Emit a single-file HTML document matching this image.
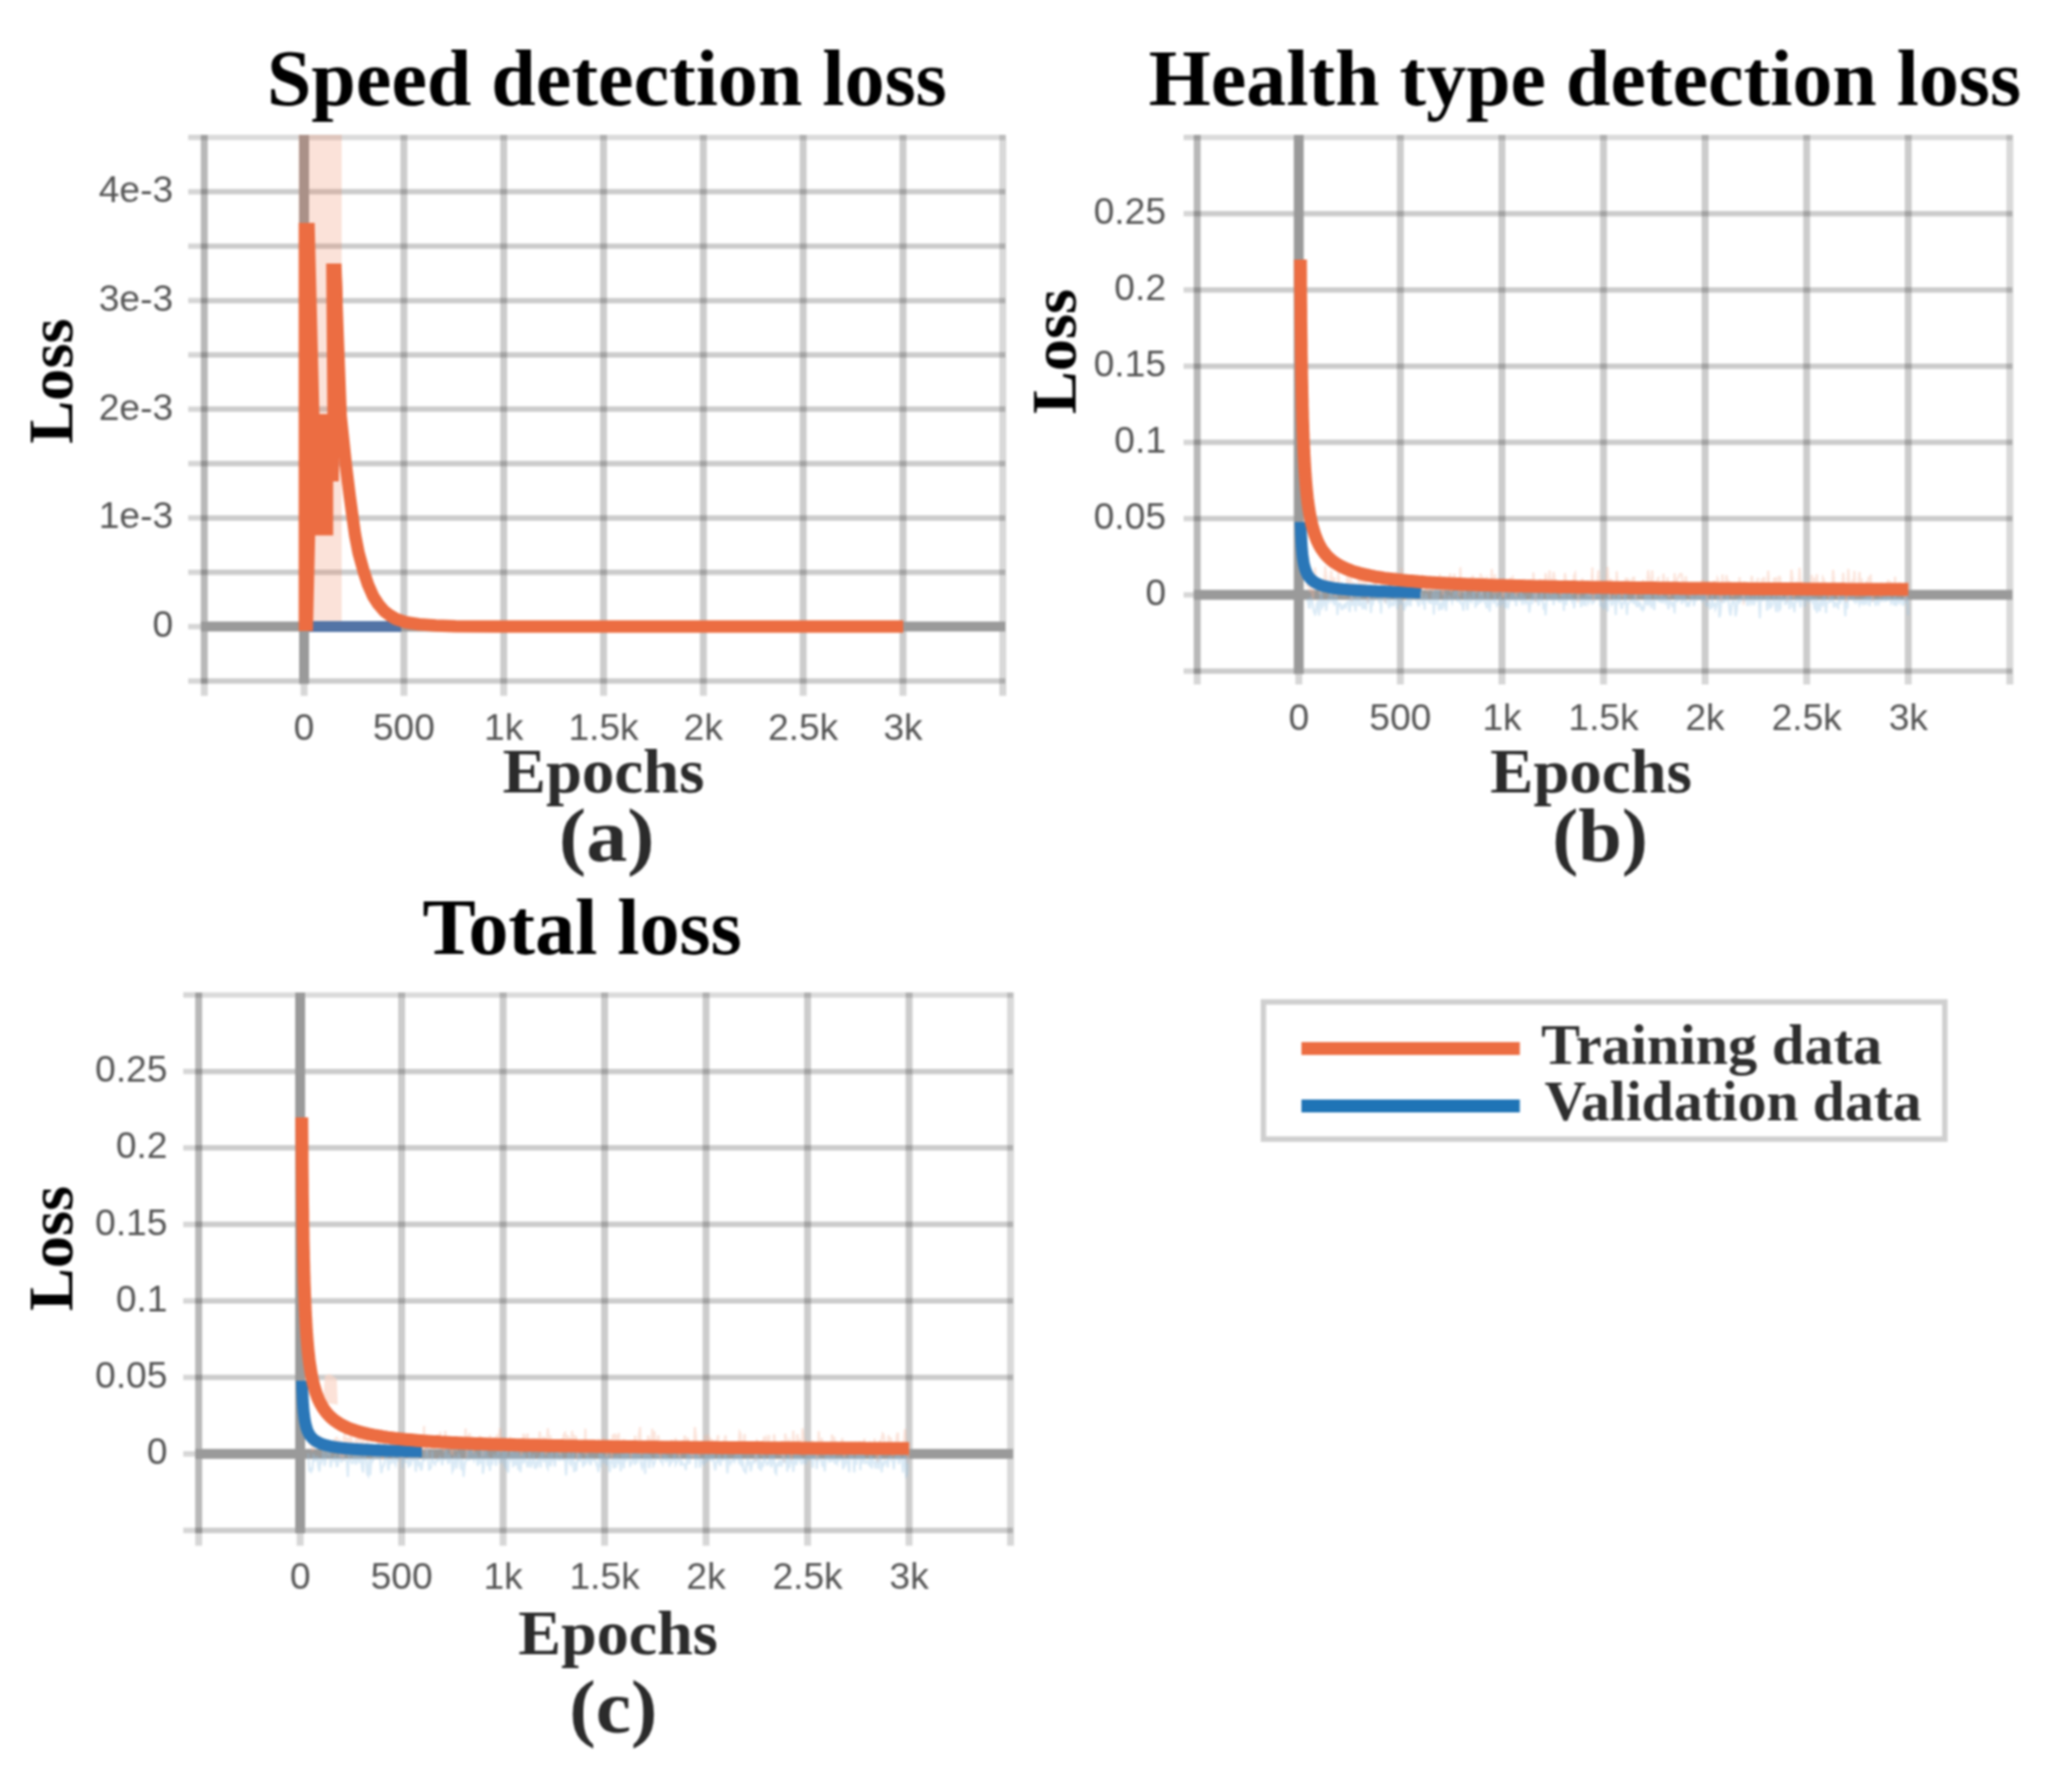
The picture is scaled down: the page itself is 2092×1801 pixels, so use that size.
<!DOCTYPE html>
<html><head><meta charset="utf-8"><title>Loss curves</title>
<style>html,body{margin:0;padding:0;background:#fff}svg{display:block;filter:blur(1px)}</style>
</head><body>
<svg width="2092" height="1801" viewBox="0 0 2092 1801">
<style>.tk{font-family:"Liberation Sans",Arial,sans-serif;font-size:37.5px;fill:#555}.bt{font-family:"Liberation Serif","Times New Roman",serif;font-weight:bold}</style>
<rect width="2092" height="1801" fill="#fff"/>
<line x1="190" y1="138.75" x2="202.75" y2="138.75" stroke="#000" stroke-opacity="0.16" stroke-width="5.5"/>
<line x1="190" y1="193.62" x2="202.75" y2="193.62" stroke="#000" stroke-opacity="0.16" stroke-width="5.5"/>
<line x1="190" y1="248.5" x2="202.75" y2="248.5" stroke="#000" stroke-opacity="0.16" stroke-width="5.5"/>
<line x1="190" y1="303.38" x2="202.75" y2="303.38" stroke="#000" stroke-opacity="0.16" stroke-width="5.5"/>
<line x1="190" y1="358.25" x2="202.75" y2="358.25" stroke="#000" stroke-opacity="0.16" stroke-width="5.5"/>
<line x1="190" y1="413.12" x2="202.75" y2="413.12" stroke="#000" stroke-opacity="0.16" stroke-width="5.5"/>
<line x1="190" y1="468" x2="202.75" y2="468" stroke="#000" stroke-opacity="0.16" stroke-width="5.5"/>
<line x1="190" y1="522.88" x2="202.75" y2="522.88" stroke="#000" stroke-opacity="0.16" stroke-width="5.5"/>
<line x1="190" y1="577.75" x2="202.75" y2="577.75" stroke="#000" stroke-opacity="0.16" stroke-width="5.5"/>
<line x1="190" y1="632.62" x2="202.75" y2="632.62" stroke="#000" stroke-opacity="0.16" stroke-width="5.5"/>
<line x1="190" y1="687.5" x2="202.75" y2="687.5" stroke="#000" stroke-opacity="0.16" stroke-width="5.5"/>
<line x1="206.25" y1="690.5" x2="206.25" y2="702.5" stroke="#000" stroke-opacity="0.16" stroke-width="7"/>
<line x1="307.03" y1="690.5" x2="307.03" y2="702.5" stroke="#000" stroke-opacity="0.16" stroke-width="7"/>
<line x1="407.81" y1="690.5" x2="407.81" y2="702.5" stroke="#000" stroke-opacity="0.16" stroke-width="7"/>
<line x1="508.59" y1="690.5" x2="508.59" y2="702.5" stroke="#000" stroke-opacity="0.16" stroke-width="7"/>
<line x1="609.38" y1="690.5" x2="609.38" y2="702.5" stroke="#000" stroke-opacity="0.16" stroke-width="7"/>
<line x1="710.16" y1="690.5" x2="710.16" y2="702.5" stroke="#000" stroke-opacity="0.16" stroke-width="7"/>
<line x1="810.94" y1="690.5" x2="810.94" y2="702.5" stroke="#000" stroke-opacity="0.16" stroke-width="7"/>
<line x1="911.72" y1="690.5" x2="911.72" y2="702.5" stroke="#000" stroke-opacity="0.16" stroke-width="7"/>
<line x1="1012.5" y1="690.5" x2="1012.5" y2="702.5" stroke="#000" stroke-opacity="0.16" stroke-width="7"/>
<line x1="202.75" y1="138.75" x2="1015" y2="138.75" stroke="#000" stroke-opacity="0.14" stroke-width="5.5"/>
<line x1="202.75" y1="193.62" x2="1015" y2="193.62" stroke="#000" stroke-opacity="0.2" stroke-width="5.5"/>
<line x1="202.75" y1="248.5" x2="1015" y2="248.5" stroke="#000" stroke-opacity="0.2" stroke-width="5.5"/>
<line x1="202.75" y1="303.38" x2="1015" y2="303.38" stroke="#000" stroke-opacity="0.2" stroke-width="5.5"/>
<line x1="202.75" y1="358.25" x2="1015" y2="358.25" stroke="#000" stroke-opacity="0.2" stroke-width="5.5"/>
<line x1="202.75" y1="413.12" x2="1015" y2="413.12" stroke="#000" stroke-opacity="0.2" stroke-width="5.5"/>
<line x1="202.75" y1="468" x2="1015" y2="468" stroke="#000" stroke-opacity="0.2" stroke-width="5.5"/>
<line x1="202.75" y1="522.88" x2="1015" y2="522.88" stroke="#000" stroke-opacity="0.2" stroke-width="5.5"/>
<line x1="202.75" y1="577.75" x2="1015" y2="577.75" stroke="#000" stroke-opacity="0.2" stroke-width="5.5"/>
<line x1="202.75" y1="687.5" x2="1015" y2="687.5" stroke="#000" stroke-opacity="0.2" stroke-width="5.5"/>
<line x1="206.25" y1="136.25" x2="206.25" y2="690.5" stroke="#000" stroke-opacity="0.28" stroke-width="7"/>
<line x1="407.81" y1="136.25" x2="407.81" y2="690.5" stroke="#000" stroke-opacity="0.2" stroke-width="7"/>
<line x1="508.59" y1="136.25" x2="508.59" y2="690.5" stroke="#000" stroke-opacity="0.2" stroke-width="7"/>
<line x1="609.38" y1="136.25" x2="609.38" y2="690.5" stroke="#000" stroke-opacity="0.2" stroke-width="7"/>
<line x1="710.16" y1="136.25" x2="710.16" y2="690.5" stroke="#000" stroke-opacity="0.2" stroke-width="7"/>
<line x1="810.94" y1="136.25" x2="810.94" y2="690.5" stroke="#000" stroke-opacity="0.2" stroke-width="7"/>
<line x1="911.72" y1="136.25" x2="911.72" y2="690.5" stroke="#000" stroke-opacity="0.2" stroke-width="7"/>
<line x1="1012.5" y1="136.25" x2="1012.5" y2="690.5" stroke="#000" stroke-opacity="0.15" stroke-width="7"/>
<line x1="202.75" y1="632.62" x2="1015" y2="632.62" stroke="#9a9a9a" stroke-width="10"/>
<line x1="307.03" y1="136.25" x2="307.03" y2="690.5" stroke="#9a9a9a" stroke-width="10"/>
<text class="tk" x="174.75" y="204.12" text-anchor="end">4e-3</text>
<text class="tk" x="174.75" y="313.88" text-anchor="end">3e-3</text>
<text class="tk" x="174.75" y="423.62" text-anchor="end">2e-3</text>
<text class="tk" x="174.75" y="533.38" text-anchor="end">1e-3</text>
<text class="tk" x="174.75" y="643.12" text-anchor="end">0</text>
<text class="tk" x="307.03" y="746.5" text-anchor="middle">0</text>
<text class="tk" x="407.81" y="746.5" text-anchor="middle">500</text>
<text class="tk" x="508.59" y="746.5" text-anchor="middle">1k</text>
<text class="tk" x="609.38" y="746.5" text-anchor="middle">1.5k</text>
<text class="tk" x="710.16" y="746.5" text-anchor="middle">2k</text>
<text class="tk" x="810.94" y="746.5" text-anchor="middle">2.5k</text>
<text class="tk" x="911.72" y="746.5" text-anchor="middle">3k</text>
<rect x="301.5" y="136" width="43.5" height="496" fill="#ec6d42" fill-opacity="0.2"/>
<line x1="312" y1="632.5" x2="405" y2="632.5" stroke="#5374a6" stroke-width="11"/>
<polygon points="301.6,637 301.6,225 317.7,225 322.5,418 330.5,418 329.3,266 344.8,266 346,300 342,486 336.4,486 336.4,540.4 318.2,540.4 316,637" fill="#ec6d42"/>
<path d="M338.5,272.0 L341.0,340.0 L344.0,420.0 L349.0,467.5 L353.0,500.0 L356.0,522.0 L358.5,540.0 L362.0,558.0 L367.5,577.8 L371.5,590.0 L376.7,601.8 L382.0,610.0 L388.0,617.0 L394.0,621.5 L400.0,625.0 L410.0,628.3 L423.0,630.3 L440.0,631.6 L460.0,632.3 L500.0,632.6 L912.0,632.6" fill="none" stroke="#ec6d42" stroke-width="12.5" stroke-linejoin="round"/>
<line x1="1195" y1="138.75" x2="1205.25" y2="138.75" stroke="#000" stroke-opacity="0.16" stroke-width="5.5"/>
<line x1="1195" y1="215.71" x2="1205.25" y2="215.71" stroke="#000" stroke-opacity="0.16" stroke-width="5.5"/>
<line x1="1195" y1="292.68" x2="1205.25" y2="292.68" stroke="#000" stroke-opacity="0.16" stroke-width="5.5"/>
<line x1="1195" y1="369.64" x2="1205.25" y2="369.64" stroke="#000" stroke-opacity="0.16" stroke-width="5.5"/>
<line x1="1195" y1="446.61" x2="1205.25" y2="446.61" stroke="#000" stroke-opacity="0.16" stroke-width="5.5"/>
<line x1="1195" y1="523.57" x2="1205.25" y2="523.57" stroke="#000" stroke-opacity="0.16" stroke-width="5.5"/>
<line x1="1195" y1="600.54" x2="1205.25" y2="600.54" stroke="#000" stroke-opacity="0.16" stroke-width="5.5"/>
<line x1="1195" y1="677.5" x2="1205.25" y2="677.5" stroke="#000" stroke-opacity="0.16" stroke-width="5.5"/>
<line x1="1208.75" y1="680.5" x2="1208.75" y2="691" stroke="#000" stroke-opacity="0.16" stroke-width="7"/>
<line x1="1311.31" y1="680.5" x2="1311.31" y2="691" stroke="#000" stroke-opacity="0.16" stroke-width="7"/>
<line x1="1413.88" y1="680.5" x2="1413.88" y2="691" stroke="#000" stroke-opacity="0.16" stroke-width="7"/>
<line x1="1516.44" y1="680.5" x2="1516.44" y2="691" stroke="#000" stroke-opacity="0.16" stroke-width="7"/>
<line x1="1619" y1="680.5" x2="1619" y2="691" stroke="#000" stroke-opacity="0.16" stroke-width="7"/>
<line x1="1721.56" y1="680.5" x2="1721.56" y2="691" stroke="#000" stroke-opacity="0.16" stroke-width="7"/>
<line x1="1824.12" y1="680.5" x2="1824.12" y2="691" stroke="#000" stroke-opacity="0.16" stroke-width="7"/>
<line x1="1926.69" y1="680.5" x2="1926.69" y2="691" stroke="#000" stroke-opacity="0.16" stroke-width="7"/>
<line x1="2029.25" y1="680.5" x2="2029.25" y2="691" stroke="#000" stroke-opacity="0.16" stroke-width="7"/>
<line x1="1205.25" y1="138.75" x2="2031.75" y2="138.75" stroke="#000" stroke-opacity="0.14" stroke-width="5.5"/>
<line x1="1205.25" y1="215.71" x2="2031.75" y2="215.71" stroke="#000" stroke-opacity="0.2" stroke-width="5.5"/>
<line x1="1205.25" y1="292.68" x2="2031.75" y2="292.68" stroke="#000" stroke-opacity="0.2" stroke-width="5.5"/>
<line x1="1205.25" y1="369.64" x2="2031.75" y2="369.64" stroke="#000" stroke-opacity="0.2" stroke-width="5.5"/>
<line x1="1205.25" y1="446.61" x2="2031.75" y2="446.61" stroke="#000" stroke-opacity="0.2" stroke-width="5.5"/>
<line x1="1205.25" y1="523.57" x2="2031.75" y2="523.57" stroke="#000" stroke-opacity="0.2" stroke-width="5.5"/>
<line x1="1205.25" y1="677.5" x2="2031.75" y2="677.5" stroke="#000" stroke-opacity="0.2" stroke-width="5.5"/>
<line x1="1208.75" y1="136.25" x2="1208.75" y2="680.5" stroke="#000" stroke-opacity="0.28" stroke-width="7"/>
<line x1="1413.88" y1="136.25" x2="1413.88" y2="680.5" stroke="#000" stroke-opacity="0.2" stroke-width="7"/>
<line x1="1516.44" y1="136.25" x2="1516.44" y2="680.5" stroke="#000" stroke-opacity="0.2" stroke-width="7"/>
<line x1="1619" y1="136.25" x2="1619" y2="680.5" stroke="#000" stroke-opacity="0.2" stroke-width="7"/>
<line x1="1721.56" y1="136.25" x2="1721.56" y2="680.5" stroke="#000" stroke-opacity="0.2" stroke-width="7"/>
<line x1="1824.12" y1="136.25" x2="1824.12" y2="680.5" stroke="#000" stroke-opacity="0.2" stroke-width="7"/>
<line x1="1926.69" y1="136.25" x2="1926.69" y2="680.5" stroke="#000" stroke-opacity="0.2" stroke-width="7"/>
<line x1="2029.25" y1="136.25" x2="2029.25" y2="680.5" stroke="#000" stroke-opacity="0.15" stroke-width="7"/>
<line x1="1205.25" y1="600.54" x2="2031.75" y2="600.54" stroke="#9a9a9a" stroke-width="10"/>
<line x1="1311.31" y1="136.25" x2="1311.31" y2="680.5" stroke="#9a9a9a" stroke-width="10"/>
<text class="tk" x="1177.25" y="226.21" text-anchor="end">0.25</text>
<text class="tk" x="1177.25" y="303.18" text-anchor="end">0.2</text>
<text class="tk" x="1177.25" y="380.14" text-anchor="end">0.15</text>
<text class="tk" x="1177.25" y="457.11" text-anchor="end">0.1</text>
<text class="tk" x="1177.25" y="534.07" text-anchor="end">0.05</text>
<text class="tk" x="1177.25" y="611.04" text-anchor="end">0</text>
<text class="tk" x="1311.31" y="736.5" text-anchor="middle">0</text>
<text class="tk" x="1413.88" y="736.5" text-anchor="middle">500</text>
<text class="tk" x="1516.44" y="736.5" text-anchor="middle">1k</text>
<text class="tk" x="1619" y="736.5" text-anchor="middle">1.5k</text>
<text class="tk" x="1721.56" y="736.5" text-anchor="middle">2k</text>
<text class="tk" x="1824.12" y="736.5" text-anchor="middle">2.5k</text>
<text class="tk" x="1926.69" y="736.5" text-anchor="middle">3k</text>
<path d="M1319.5,592.4 L1320.5,583.4 L1321.6,591.1 L1322.6,597.8 L1323.6,587.2 L1324.6,596.2 L1325.7,604.6 L1326.7,591.0 L1327.7,572.7 L1328.7,587.5 L1329.8,591.5 L1330.8,591.2 L1331.8,594.3 L1332.9,600.0 L1333.9,593.3 L1334.9,590.8 L1335.9,591.3 L1337.0,591.8 L1338.0,571.5 L1339.0,581.7 L1340.0,593.0 L1341.1,591.9 L1342.1,587.0 L1343.1,585.9 L1344.1,575.8 L1345.2,595.5 L1346.2,583.6 L1347.2,583.7 L1348.2,602.1 L1349.3,588.3 L1350.3,596.8 L1351.3,577.2 L1352.3,595.1 L1353.4,592.3 L1354.4,589.2 L1355.4,590.2 L1356.4,600.4 L1357.5,600.8 L1358.5,597.8 L1359.5,594.4 L1360.5,576.2 L1361.6,598.2 L1362.6,595.9 L1363.6,582.2 L1364.6,607.1 L1365.7,594.3 L1366.7,587.7 L1367.7,591.9 L1368.7,600.9 L1369.8,597.5 L1370.8,593.6 L1371.8,582.4 L1372.8,588.7 L1373.9,593.3 L1374.9,577.9 L1375.9,593.2 L1377.0,582.3 L1378.0,602.8 L1379.0,582.1 L1380.0,591.6 L1381.1,609.1 L1382.1,598.7 L1383.1,599.3 L1384.1,590.2 L1385.2,600.7 L1386.2,595.2 L1387.2,589.3 L1388.2,590.0 L1389.3,587.9 L1390.3,596.5 L1391.3,591.4 L1392.3,596.1 L1393.4,590.9 L1394.4,596.2 L1395.4,578.7 L1396.4,586.8 L1397.5,591.8 L1398.5,608.9 L1399.5,583.6 L1400.5,603.5 L1401.6,591.8 L1402.6,598.5 L1403.6,600.6 L1404.6,582.8 L1405.7,584.6 L1406.7,580.6 L1407.7,595.4 L1408.7,577.3 L1409.8,593.9 L1410.8,583.0 L1411.8,589.4 L1412.8,589.3 L1413.9,602.0 L1414.9,573.9 L1415.9,587.8 L1417.0,585.8 L1418.0,593.3 L1419.0,603.8 L1420.0,602.6 L1421.1,591.5 L1422.1,587.4 L1423.1,587.1 L1424.1,591.4 L1425.2,596.7 L1426.2,593.3 L1427.2,580.6 L1428.2,593.4 L1429.3,595.9 L1430.3,596.5 L1431.3,580.1 L1432.3,585.4 L1433.4,590.2 L1434.4,598.5 L1435.4,579.8 L1436.4,583.3 L1437.5,592.8 L1438.5,591.8 L1439.5,596.0 L1440.5,588.8 L1441.6,597.5 L1442.6,582.6 L1443.6,591.8 L1444.6,590.7 L1445.7,586.5 L1446.7,597.3 L1447.7,593.9 L1448.7,591.3 L1449.8,588.2 L1450.8,592.0 L1451.8,589.0 L1452.8,587.9 L1453.9,579.5 L1454.9,589.8 L1455.9,591.5 L1457.0,600.5 L1458.0,589.8 L1459.0,594.4 L1460.0,587.2 L1461.1,587.8 L1462.1,594.7 L1463.1,589.9 L1464.1,578.8 L1465.2,598.0 L1466.2,586.7 L1467.2,594.1 L1468.2,579.2 L1469.3,583.1 L1470.3,590.1 L1471.3,584.0 L1472.3,587.2 L1473.4,601.6 L1474.4,572.5 L1475.4,590.1 L1476.4,597.8 L1477.5,586.3 L1478.5,598.7 L1479.5,589.8 L1480.5,591.3 L1481.6,590.5 L1482.6,589.2 L1483.6,596.5 L1484.6,593.4 L1485.7,590.8 L1486.7,581.9 L1487.7,582.5 L1488.7,589.8 L1489.8,597.2 L1490.8,597.4 L1491.8,588.4 L1492.8,583.6 L1493.9,594.2 L1494.9,578.9 L1495.9,601.2 L1497.0,581.5 L1498.0,590.7 L1499.0,590.6 L1500.0,591.2 L1501.1,581.6 L1502.1,594.5 L1503.1,590.1 L1504.1,590.8 L1505.2,590.7 L1506.2,574.4 L1507.2,595.7 L1508.2,597.8 L1509.3,579.9 L1510.3,591.6 L1511.3,598.9 L1512.3,589.1 L1513.4,591.0 L1514.4,594.1 L1515.4,588.9 L1516.4,594.9 L1517.5,602.9 L1518.5,599.0 L1519.5,593.3 L1520.5,590.8 L1521.6,593.4 L1522.6,591.1 L1523.6,598.8 L1524.6,588.4 L1525.7,582.7 L1526.7,588.0 L1527.7,583.5 L1528.7,586.2 L1529.8,598.1 L1530.8,602.6 L1531.8,589.2 L1532.8,598.9 L1533.9,592.2 L1534.9,585.7 L1535.9,589.8 L1537.0,594.0 L1538.0,595.2 L1539.0,584.6 L1540.0,589.1 L1541.1,591.1 L1542.1,591.2 L1543.1,592.2 L1544.1,591.9 L1545.2,590.2 L1546.2,590.9 L1547.2,593.9 L1548.2,577.8 L1549.3,589.7 L1550.3,608.0 L1551.3,592.5 L1552.3,594.5 L1553.4,591.0 L1554.4,591.2 L1555.4,584.5 L1556.4,597.1 L1557.5,587.4 L1558.5,593.3 L1559.5,591.3 L1560.5,578.7 L1561.6,584.2 L1562.6,589.2 L1563.6,589.3 L1564.6,575.8 L1565.7,600.1 L1566.7,583.7 L1567.7,586.2 L1568.7,577.3 L1569.8,585.3 L1570.8,587.0 L1571.8,590.7 L1572.8,594.3 L1573.9,598.3 L1574.9,587.8 L1575.9,601.4 L1576.9,589.1 L1578.0,587.7 L1579.0,590.8 L1580.0,578.5 L1581.1,585.2 L1582.1,590.9 L1583.1,587.9 L1584.1,595.2 L1585.2,594.8 L1586.2,591.8 L1587.2,600.3 L1588.2,590.3 L1589.3,580.7 L1590.3,578.7 L1591.3,590.4 L1592.3,588.3 L1593.4,608.2 L1594.4,597.7 L1595.4,597.9 L1596.4,591.0 L1597.5,583.8 L1598.5,590.7 L1599.5,592.8 L1600.5,587.8 L1601.6,597.5 L1602.6,591.4 L1603.6,591.7 L1604.6,601.7 L1605.7,595.3 L1606.7,590.8 L1607.7,572.8 L1608.7,606.8 L1609.8,592.6 L1610.8,586.7 L1611.8,590.4 L1612.8,587.1 L1613.9,575.6 L1614.9,590.8 L1615.9,589.0 L1616.9,591.9 L1618.0,591.2 L1619.0,592.8 L1620.0,591.8 L1621.1,589.9 L1622.1,585.4 L1623.1,572.3 L1624.1,589.1 L1625.2,605.1 L1626.2,584.2 L1627.2,592.8 L1628.2,587.1 L1629.3,589.0 L1630.3,589.4 L1631.3,601.1 L1632.3,576.7 L1633.4,592.4 L1634.4,595.2 L1635.4,590.8 L1636.4,591.2 L1637.5,602.5 L1638.5,590.0 L1639.5,593.7 L1640.5,595.3 L1641.6,583.1 L1642.6,593.3 L1643.6,583.6 L1644.6,589.0 L1645.7,592.1 L1646.7,586.7 L1647.7,585.2 L1648.7,595.1 L1649.8,582.2 L1650.8,592.4 L1651.8,605.4 L1652.8,592.7 L1653.9,590.1 L1654.9,589.1 L1655.9,590.5 L1656.9,598.9 L1658.0,596.4 L1659.0,585.1 L1660.0,592.5 L1661.1,595.4 L1662.1,591.9 L1663.1,586.5 L1664.1,575.6 L1665.2,584.1 L1666.2,587.6 L1667.2,594.2 L1668.2,575.7 L1669.3,594.9 L1670.3,593.3 L1671.3,592.9 L1672.3,598.2 L1673.4,584.9 L1674.4,583.7 L1675.4,601.1 L1676.4,587.0 L1677.5,601.2 L1678.5,590.3 L1679.5,579.1 L1680.5,590.5 L1681.6,589.8 L1682.6,592.7 L1683.6,582.8 L1684.6,601.8 L1685.7,601.9 L1686.7,589.8 L1687.7,599.9 L1688.7,590.6 L1689.8,592.7 L1690.8,578.7 L1691.8,591.4 L1692.8,585.0 L1693.9,584.5 L1694.9,582.6 L1695.9,579.9 L1696.9,579.4 L1698.0,579.6 L1699.0,590.6 L1700.0,586.2 L1701.0,591.8 L1702.1,581.7 L1703.1,592.1 L1704.1,596.3 L1705.2,599.4 L1706.2,596.7 L1707.2,601.3 L1708.2,589.3 L1709.3,599.3 L1710.3,588.2 L1711.3,593.3 L1712.3,594.0 L1713.4,598.9 L1714.4,590.5 L1715.4,594.8 L1716.4,601.2 L1717.5,595.4 L1718.5,585.2 L1719.5,599.8 L1720.5,585.6 L1721.6,589.5 L1722.6,591.5 L1723.6,608.4 L1724.6,586.7 L1725.7,590.7 L1726.7,600.2 L1727.7,589.8 L1728.7,600.6 L1729.8,595.4 L1730.8,586.1 L1731.8,593.5 L1732.8,593.2 L1733.9,583.7 L1734.9,585.9 L1735.9,596.3 L1736.9,602.1 L1738.0,607.7 L1739.0,579.9 L1740.0,595.8 L1741.0,590.5 L1742.1,591.7 L1743.1,580.6 L1744.1,587.0 L1745.2,586.5 L1746.2,589.8 L1747.2,588.6 L1748.2,590.4 L1749.3,602.7 L1750.3,593.6 L1751.3,596.5 L1752.3,592.2 L1753.4,595.2 L1754.4,597.5 L1755.4,592.8 L1756.4,582.7 L1757.5,598.7 L1758.5,589.3 L1759.5,590.1 L1760.5,610.7 L1761.6,588.8 L1762.6,590.0 L1763.6,594.0 L1764.6,594.0 L1765.7,594.2 L1766.7,593.2 L1767.7,588.2 L1768.7,581.3 L1769.8,588.3 L1770.8,590.1 L1771.8,592.7 L1772.8,586.3 L1773.9,596.5 L1774.9,583.3 L1775.9,595.0 L1776.9,593.0 L1778.0,591.6 L1779.0,584.1 L1780.0,591.0 L1781.0,582.5 L1782.1,592.8 L1783.1,591.4 L1784.1,594.1 L1785.2,576.1 L1786.2,587.4 L1787.2,597.7 L1788.2,595.4 L1789.3,597.3 L1790.3,591.0 L1791.3,583.3 L1792.3,601.8 L1793.4,582.5 L1794.4,594.3 L1795.4,601.5 L1796.4,581.2 L1797.5,584.1 L1798.5,602.8 L1799.5,590.3 L1800.5,595.4 L1801.6,589.2 L1802.6,597.7 L1803.6,593.9 L1804.6,605.9 L1805.7,604.5 L1806.7,590.3 L1807.7,590.7 L1808.7,575.0 L1809.8,583.7 L1810.8,603.8 L1811.8,598.9 L1812.8,597.2 L1813.9,588.8 L1814.9,591.2 L1815.9,594.7 L1816.9,573.0 L1818.0,589.4 L1819.0,586.2 L1820.0,594.1 L1821.0,591.1 L1822.1,596.9 L1823.1,596.8 L1824.1,590.8 L1825.2,591.1 L1826.2,590.4 L1827.2,591.1 L1828.2,590.3 L1829.3,580.3 L1830.3,591.8 L1831.3,587.9 L1832.3,583.5 L1833.4,591.9 L1834.4,579.7 L1835.4,592.9 L1836.4,588.9 L1837.5,590.8 L1838.5,593.8 L1839.5,591.7 L1840.5,583.2 L1841.6,585.8 L1842.6,588.2 L1843.6,591.0 L1844.6,598.0 L1845.7,591.3 L1846.7,603.8 L1847.7,591.0 L1848.7,594.4 L1849.8,592.0 L1850.8,575.4 L1851.8,585.6 L1852.8,593.8 L1853.9,599.6 L1854.9,588.9 L1855.9,604.0 L1856.9,599.4 L1858.0,591.3 L1859.0,594.4 L1860.0,591.7 L1861.0,578.4 L1862.1,592.8 L1863.1,591.1 L1864.1,608.2 L1865.2,595.1 L1866.2,574.3 L1867.2,591.5 L1868.2,598.9 L1869.3,588.2 L1870.3,586.5 L1871.3,591.5 L1872.3,576.2 L1873.4,598.8 L1874.4,602.2 L1875.4,593.2 L1876.4,588.5 L1877.5,577.4 L1878.5,590.1 L1879.5,583.9 L1880.5,591.5 L1881.6,594.7 L1882.6,589.6 L1883.6,594.3 L1884.6,586.1 L1885.7,594.7 L1886.7,582.2 L1887.7,594.6 L1888.7,579.9 L1889.8,597.0 L1890.8,607.4 L1891.8,592.6 L1892.8,591.2 L1893.9,590.2 L1894.9,599.3 L1895.9,596.0 L1896.9,588.8 L1898.0,596.1 L1899.0,602.6 L1900.0,590.6 L1901.0,592.5 L1902.1,595.6 L1903.1,591.3 L1904.1,589.9 L1905.1,595.0 L1906.2,585.4 L1907.2,591.1 L1908.2,587.5 L1909.3,588.2 L1910.3,589.5 L1911.3,590.3 L1912.3,593.1 L1913.4,582.2 L1914.4,596.5 L1915.4,597.8 L1916.4,591.3 L1917.5,588.5 L1918.5,588.8 L1919.5,593.2 L1920.5,600.9 L1921.6,592.5 L1922.6,598.9 L1923.6,606.8 L1924.6,589.8 L1925.7,588.5 L1926.7,595.7" fill="none" stroke="#f5b49c" stroke-opacity="0.35" stroke-width="2.2"/>
<path d="M1319.5,607.3 L1320.5,605.8 L1321.6,613.5 L1322.6,613.5 L1323.6,602.5 L1324.6,605.3 L1325.7,612.5 L1326.7,618.0 L1327.7,620.0 L1328.7,617.5 L1329.8,609.1 L1330.8,606.5 L1331.8,621.5 L1332.9,606.7 L1333.9,589.7 L1334.9,612.8 L1335.9,610.9 L1337.0,606.0 L1338.0,606.3 L1339.0,616.6 L1340.0,608.2 L1341.1,605.0 L1342.1,606.8 L1343.1,598.6 L1344.1,595.0 L1345.2,608.6 L1346.2,602.0 L1347.2,610.0 L1348.2,609.3 L1349.3,601.0 L1350.3,621.0 L1351.3,608.0 L1352.3,611.1 L1353.4,609.9 L1354.4,614.8 L1355.4,615.0 L1356.4,611.4 L1357.5,610.4 L1358.5,614.3 L1359.5,609.7 L1360.5,607.5 L1361.6,607.4 L1362.6,618.0 L1363.6,607.6 L1364.6,598.3 L1365.7,611.6 L1366.7,603.3 L1367.7,606.8 L1368.7,617.2 L1369.8,588.8 L1370.8,606.7 L1371.8,611.9 L1372.8,598.9 L1373.9,612.0 L1374.9,607.2 L1375.9,615.0 L1377.0,604.3 L1378.0,613.4 L1379.0,614.4 L1380.0,606.3 L1381.1,605.1 L1382.1,608.7 L1383.1,602.0 L1384.1,618.8 L1385.2,607.4 L1386.2,609.0 L1387.2,605.3 L1388.2,591.8 L1389.3,602.7 L1390.3,603.7 L1391.3,600.5 L1392.3,608.8 L1393.4,601.8 L1394.4,619.4 L1395.4,594.8 L1396.4,593.3 L1397.5,605.7 L1398.5,607.1 L1399.5,608.4 L1400.5,595.6 L1401.6,605.7 L1402.6,614.1 L1403.6,603.8 L1404.6,610.5 L1405.7,611.2 L1406.7,607.9 L1407.7,611.5 L1408.7,600.4 L1409.8,600.8 L1410.8,615.2 L1411.8,607.1 L1412.8,604.6 L1413.9,609.9 L1414.9,606.6 L1415.9,608.1 L1417.0,611.5 L1418.0,616.2 L1419.0,606.7 L1420.0,612.5 L1421.1,603.4 L1422.1,610.9 L1423.1,595.8 L1424.1,612.1 L1425.2,602.9 L1426.2,602.4 L1427.2,597.0 L1428.2,604.4 L1429.3,603.9 L1430.3,606.7 L1431.3,607.7 L1432.3,612.2 L1433.4,607.1 L1434.4,603.5 L1435.4,597.0 L1436.4,610.3 L1437.5,602.0 L1438.5,615.6 L1439.5,599.0 L1440.5,602.4 L1441.6,605.5 L1442.6,608.0 L1443.6,608.4 L1444.6,604.8 L1445.7,609.5 L1446.7,597.6 L1447.7,620.5 L1448.7,595.4 L1449.8,610.5 L1450.8,607.7 L1451.8,595.5 L1452.8,616.1 L1453.9,612.1 L1454.9,609.8 L1455.9,615.6 L1457.0,608.1 L1458.0,610.3 L1459.0,598.6 L1460.0,616.8 L1461.1,606.1 L1462.1,606.0 L1463.1,601.1 L1464.1,604.4 L1465.2,604.8 L1466.2,608.3 L1467.2,604.5 L1468.2,599.0 L1469.3,597.6 L1470.3,595.2 L1471.3,607.8 L1472.3,603.7 L1473.4,605.1 L1474.4,608.4 L1475.4,607.6 L1476.4,611.2 L1477.5,616.5 L1478.5,602.6 L1479.5,594.0 L1480.5,606.2 L1481.6,616.0 L1482.6,606.9 L1483.6,602.7 L1484.6,606.2 L1485.7,607.5 L1486.7,602.9 L1487.7,592.9 L1488.7,600.9 L1489.8,613.6 L1490.8,604.2 L1491.8,610.8 L1492.8,607.2 L1493.9,597.6 L1494.9,609.0 L1495.9,593.4 L1497.0,606.8 L1498.0,604.2 L1499.0,607.9 L1500.0,609.3 L1501.1,614.1 L1502.1,594.2 L1503.1,610.5 L1504.1,617.5 L1505.2,605.9 L1506.2,605.6 L1507.2,605.6 L1508.2,609.2 L1509.3,600.6 L1510.3,606.7 L1511.3,611.5 L1512.3,610.2 L1513.4,608.4 L1514.4,601.9 L1515.4,610.8 L1516.4,608.7 L1517.5,606.3 L1518.5,606.1 L1519.5,614.2 L1520.5,594.5 L1521.6,612.0 L1522.6,613.4 L1523.6,608.6 L1524.6,603.4 L1525.7,605.1 L1526.7,598.9 L1527.7,600.4 L1528.7,607.2 L1529.8,600.7 L1530.8,611.8 L1531.8,602.5 L1532.8,603.0 L1533.9,603.9 L1534.9,606.9 L1535.9,595.3 L1537.0,610.6 L1538.0,604.4 L1539.0,601.5 L1540.0,608.5 L1541.1,606.9 L1542.1,608.6 L1543.1,607.8 L1544.1,618.3 L1545.2,608.9 L1546.2,603.2 L1547.2,609.7 L1548.2,594.6 L1549.3,598.3 L1550.3,607.6 L1551.3,595.1 L1552.3,605.2 L1553.4,611.4 L1554.4,605.1 L1555.4,605.9 L1556.4,596.2 L1557.5,604.4 L1558.5,615.4 L1559.5,608.8 L1560.5,621.1 L1561.6,606.2 L1562.6,595.4 L1563.6,605.7 L1564.6,601.9 L1565.7,606.3 L1566.7,600.9 L1567.7,602.2 L1568.7,610.9 L1569.8,598.4 L1570.8,606.0 L1571.8,601.0 L1572.8,604.7 L1573.9,607.3 L1574.9,607.3 L1575.9,604.2 L1576.9,606.2 L1578.0,597.5 L1579.0,616.6 L1580.0,593.7 L1581.1,610.8 L1582.1,605.0 L1583.1,604.9 L1584.1,599.0 L1585.2,604.0 L1586.2,602.6 L1587.2,606.9 L1588.2,605.1 L1589.3,614.0 L1590.3,607.7 L1591.3,605.4 L1592.3,605.6 L1593.4,602.2 L1594.4,602.4 L1595.4,605.8 L1596.4,613.0 L1597.5,602.5 L1598.5,608.0 L1599.5,605.6 L1600.5,611.9 L1601.6,598.7 L1602.6,592.3 L1603.6,608.8 L1604.6,607.0 L1605.7,591.7 L1606.7,603.9 L1607.7,609.1 L1608.7,608.2 L1609.8,607.4 L1610.8,598.5 L1611.8,603.7 L1612.8,599.5 L1613.9,591.5 L1614.9,602.8 L1615.9,612.5 L1616.9,607.0 L1618.0,611.2 L1619.0,614.2 L1620.0,613.0 L1621.1,603.2 L1622.1,607.6 L1623.1,617.4 L1624.1,596.8 L1625.2,605.9 L1626.2,606.4 L1627.2,610.5 L1628.2,609.5 L1629.3,602.6 L1630.3,604.4 L1631.3,621.0 L1632.3,603.9 L1633.4,606.4 L1634.4,597.9 L1635.4,604.5 L1636.4,611.3 L1637.5,614.7 L1638.5,607.4 L1639.5,610.1 L1640.5,592.2 L1641.6,604.0 L1642.6,620.8 L1643.6,609.5 L1644.6,608.8 L1645.7,607.4 L1646.7,606.6 L1647.7,605.5 L1648.7,608.2 L1649.8,608.8 L1650.8,600.0 L1651.8,609.4 L1652.8,612.7 L1653.9,606.3 L1654.9,612.6 L1655.9,607.7 L1656.9,614.4 L1658.0,613.0 L1659.0,616.0 L1660.0,614.0 L1661.1,598.8 L1662.1,609.0 L1663.1,610.0 L1664.1,591.4 L1665.2,610.7 L1666.2,600.3 L1667.2,613.6 L1668.2,606.7 L1669.3,606.8 L1670.3,616.0 L1671.3,601.0 L1672.3,600.7 L1673.4,601.9 L1674.4,606.0 L1675.4,604.4 L1676.4,608.1 L1677.5,599.2 L1678.5,608.8 L1679.5,606.3 L1680.5,602.3 L1681.6,607.9 L1682.6,605.3 L1683.6,607.6 L1684.6,615.2 L1685.7,606.6 L1686.7,607.2 L1687.7,609.1 L1688.7,612.8 L1689.8,607.2 L1690.8,619.2 L1691.8,598.8 L1692.8,598.1 L1693.9,607.8 L1694.9,594.4 L1695.9,605.5 L1696.9,600.9 L1698.0,609.9 L1699.0,595.9 L1700.0,607.9 L1701.0,603.4 L1702.1,606.8 L1703.1,612.6 L1704.1,607.2 L1705.2,612.4 L1706.2,607.6 L1707.2,606.7 L1708.2,600.0 L1709.3,599.5 L1710.3,611.9 L1711.3,606.9 L1712.3,606.2 L1713.4,594.6 L1714.4,605.6 L1715.4,592.7 L1716.4,600.7 L1717.5,604.1 L1718.5,599.1 L1719.5,606.0 L1720.5,603.9 L1721.6,594.1 L1722.6,611.2 L1723.6,611.4 L1724.6,606.0 L1725.7,609.0 L1726.7,614.0 L1727.7,613.5 L1728.7,600.7 L1729.8,612.8 L1730.8,608.1 L1731.8,614.8 L1732.8,612.3 L1733.9,606.8 L1734.9,591.3 L1735.9,623.1 L1736.9,620.6 L1738.0,604.0 L1739.0,602.2 L1740.0,607.8 L1741.0,607.7 L1742.1,606.7 L1743.1,603.1 L1744.1,599.4 L1745.2,606.5 L1746.2,616.8 L1747.2,621.3 L1748.2,612.0 L1749.3,606.6 L1750.3,608.3 L1751.3,607.4 L1752.3,622.1 L1753.4,616.5 L1754.4,605.3 L1755.4,605.2 L1756.4,609.3 L1757.5,603.4 L1758.5,606.9 L1759.5,597.9 L1760.5,600.6 L1761.6,606.6 L1762.6,605.5 L1763.6,603.1 L1764.6,612.0 L1765.7,600.6 L1766.7,606.3 L1767.7,609.4 L1768.7,606.8 L1769.8,601.2 L1770.8,611.1 L1771.8,606.7 L1772.8,605.7 L1773.9,591.8 L1774.9,606.3 L1775.9,607.8 L1776.9,624.1 L1778.0,600.3 L1779.0,604.9 L1780.0,606.0 L1781.0,605.0 L1782.1,604.6 L1783.1,598.8 L1784.1,616.4 L1785.2,609.3 L1786.2,595.8 L1787.2,613.3 L1788.2,612.5 L1789.3,610.1 L1790.3,602.1 L1791.3,600.1 L1792.3,610.9 L1793.4,617.9 L1794.4,607.9 L1795.4,598.8 L1796.4,615.9 L1797.5,614.6 L1798.5,599.7 L1799.5,606.3 L1800.5,605.3 L1801.6,603.9 L1802.6,610.8 L1803.6,602.5 L1804.6,609.4 L1805.7,596.2 L1806.7,614.9 L1807.7,598.9 L1808.7,602.8 L1809.8,613.4 L1810.8,607.8 L1811.8,618.2 L1812.8,604.3 L1813.9,604.9 L1814.9,606.6 L1815.9,604.6 L1816.9,606.6 L1818.0,613.2 L1819.0,602.8 L1820.0,601.3 L1821.0,598.3 L1822.1,612.6 L1823.1,601.7 L1824.1,603.3 L1825.2,605.8 L1826.2,607.1 L1827.2,597.8 L1828.2,604.5 L1829.3,606.9 L1830.3,604.3 L1831.3,609.6 L1832.3,615.5 L1833.4,602.9 L1834.4,618.8 L1835.4,605.3 L1836.4,615.4 L1837.5,616.0 L1838.5,604.5 L1839.5,607.0 L1840.5,612.4 L1841.6,600.7 L1842.6,602.3 L1843.6,619.0 L1844.6,608.0 L1845.7,608.0 L1846.7,607.8 L1847.7,604.3 L1848.7,606.3 L1849.8,601.0 L1850.8,605.3 L1851.8,613.4 L1852.8,608.5 L1853.9,609.1 L1854.9,612.3 L1855.9,613.5 L1856.9,596.7 L1858.0,609.5 L1859.0,604.6 L1860.0,604.7 L1861.0,598.0 L1862.1,607.9 L1863.1,622.2 L1864.1,606.8 L1865.2,614.5 L1866.2,600.6 L1867.2,606.1 L1868.2,592.8 L1869.3,596.5 L1870.3,598.2 L1871.3,606.5 L1872.3,606.6 L1873.4,608.3 L1874.4,606.6 L1875.4,606.6 L1876.4,606.5 L1877.5,610.4 L1878.5,606.7 L1879.5,608.1 L1880.5,606.1 L1881.6,610.9 L1882.6,605.9 L1883.6,602.9 L1884.6,610.4 L1885.7,590.5 L1886.7,601.2 L1887.7,612.0 L1888.7,599.6 L1889.8,606.7 L1890.8,606.6 L1891.8,606.5 L1892.8,606.1 L1893.9,611.6 L1894.9,606.3 L1895.9,606.3 L1896.9,609.0 L1898.0,604.7 L1899.0,605.3 L1900.0,606.6 L1901.0,605.0 L1902.1,602.9 L1903.1,606.7 L1904.1,606.3 L1905.1,600.7 L1906.2,606.7 L1907.2,594.4 L1908.2,602.6 L1909.3,608.7 L1910.3,606.6 L1911.3,605.1 L1912.3,611.0 L1913.4,598.8 L1914.4,611.8 L1915.4,605.9 L1916.4,607.4 L1917.5,603.3 L1918.5,608.1 L1919.5,605.7 L1920.5,605.6 L1921.6,611.5 L1922.6,606.0 L1923.6,608.7 L1924.6,601.1 L1925.7,603.7 L1926.7,621.1" fill="none" stroke="#94c2e6" stroke-opacity="0.35" stroke-width="2.2"/>
<path d="M1313.2,527.0 L1313.2,527.1 L1313.2,529.7 L1313.3,532.0 L1313.4,534.2 L1313.5,536.2 L1313.5,538.1 L1313.6,539.9 L1313.7,541.5 L1313.8,543.1 L1313.9,544.5 L1313.9,545.9 L1314.0,547.2 L1314.1,548.5 L1314.2,549.6 L1314.2,550.8 L1314.3,551.8 L1314.4,552.8 L1314.5,553.8 L1314.6,554.7 L1314.6,555.6 L1314.7,556.4 L1314.8,557.2 L1314.9,558.0 L1314.9,558.8 L1315.0,559.5 L1315.1,560.2 L1315.2,560.8 L1315.3,561.5 L1315.3,562.1 L1315.4,562.7 L1315.5,563.2 L1315.6,563.8 L1315.6,564.3 L1315.7,564.8 L1315.8,565.3 L1315.9,565.8 L1315.9,566.3 L1316.0,566.7 L1316.1,567.2 L1316.2,567.6 L1316.3,568.0 L1316.3,568.4 L1316.4,568.8 L1316.5,569.2 L1316.6,569.6 L1316.6,569.9 L1316.7,570.3 L1316.8,570.6 L1316.9,571.0 L1317.0,571.3 L1317.0,571.6 L1317.1,571.9 L1317.2,572.2 L1317.3,572.5 L1317.3,572.8 L1317.4,573.1 L1317.5,573.3 L1317.6,573.6 L1317.7,573.9 L1317.7,574.1 L1317.8,574.4 L1317.9,574.6 L1318.0,574.9 L1318.0,575.1 L1318.1,575.3 L1318.2,575.6 L1318.3,575.8 L1318.3,576.0 L1318.4,576.2 L1318.5,576.4 L1318.6,576.6 L1318.7,576.8 L1318.7,577.0 L1318.8,577.2 L1318.9,577.4 L1319.0,577.6 L1319.0,577.8 L1319.1,577.9 L1319.2,578.1 L1319.3,578.3 L1319.4,578.5 L1319.4,578.6 L1319.5,578.8 L1319.6,579.0 L1319.7,579.1 L1319.7,579.3 L1319.8,579.4 L1319.9,579.6 L1320.0,579.7 L1320.1,579.9 L1320.1,580.0 L1320.2,580.2 L1320.3,580.3 L1320.4,580.4 L1320.4,580.6 L1320.5,580.7 L1320.6,580.8 L1320.7,581.0 L1320.7,581.1 L1320.8,581.2 L1320.9,581.3 L1321.0,581.5 L1321.1,581.6 L1321.1,581.7 L1321.2,581.8 L1321.3,581.9 L1321.4,582.0 L1321.4,582.1 L1321.5,582.3 L1321.6,582.4 L1321.7,582.5 L1321.8,582.6 L1321.8,582.7 L1321.9,582.8 L1322.0,582.9 L1322.1,583.0 L1322.1,583.1 L1322.2,583.2 L1322.3,583.3 L1322.4,583.4 L1322.5,583.5 L1322.5,583.6 L1322.6,583.7 L1322.7,583.7 L1322.8,583.8 L1322.8,583.9 L1322.9,584.0 L1323.0,584.1 L1323.1,584.2 L1323.1,584.3 L1323.2,584.3 L1323.3,584.4 L1323.4,584.5 L1323.5,584.6 L1323.5,584.7 L1323.6,584.8 L1323.7,584.8 L1323.8,584.9 L1323.8,585.0 L1323.9,585.1 L1324.0,585.1 L1324.1,585.2 L1324.2,585.3 L1324.2,585.3 L1324.3,585.4 L1324.4,585.5 L1324.5,585.6 L1324.5,585.6 L1324.6,585.7 L1324.7,585.8 L1324.8,585.8 L1324.9,585.9 L1325.3,586.2 L1325.7,586.6 L1326.1,586.9 L1326.5,587.2 L1327.0,587.5 L1327.4,587.7 L1327.8,588.0 L1328.2,588.2 L1328.7,588.5 L1329.1,588.7 L1329.5,588.9 L1329.9,589.1 L1330.3,589.3 L1330.8,589.5 L1331.2,589.7 L1331.6,589.9 L1332.0,590.1 L1332.5,590.2 L1332.9,590.4 L1333.3,590.5 L1333.7,590.7 L1334.2,590.8 L1334.6,591.0 L1335.0,591.1 L1335.4,591.2 L1335.8,591.4 L1336.3,591.5 L1336.7,591.6 L1337.1,591.7 L1337.5,591.8 L1338.0,591.9 L1338.4,592.0 L1338.8,592.1 L1339.2,592.2 L1339.7,592.3 L1340.1,592.4 L1340.5,592.5 L1340.9,592.6 L1341.3,592.7 L1341.8,592.8 L1342.2,592.9 L1342.6,592.9 L1343.0,593.0 L1343.5,593.1 L1343.9,593.2 L1344.3,593.3 L1344.7,593.3 L1345.2,593.4 L1345.6,593.5 L1346.0,593.5 L1346.4,593.6 L1346.8,593.7 L1347.3,593.7 L1347.7,593.8 L1348.1,593.9 L1348.5,593.9 L1349.0,594.0 L1349.4,594.0 L1349.8,594.1 L1350.2,594.1 L1350.6,594.2 L1351.1,594.2 L1351.5,594.3 L1351.9,594.4 L1352.3,594.4 L1352.8,594.5 L1353.2,594.5 L1353.6,594.5 L1354.0,594.6 L1354.5,594.6 L1354.9,594.7 L1355.3,594.7 L1355.7,594.8 L1356.1,594.8 L1356.6,594.9 L1357.0,594.9 L1357.4,594.9 L1357.8,595.0 L1358.3,595.0 L1358.7,595.1 L1359.1,595.1 L1359.5,595.1 L1360.0,595.2 L1360.4,595.2 L1360.8,595.2 L1361.2,595.3 L1361.6,595.3 L1362.1,595.3 L1362.5,595.4 L1362.9,595.4 L1363.3,595.4 L1363.8,595.5 L1364.2,595.5 L1364.6,595.5 L1365.0,595.6 L1365.5,595.6 L1365.9,595.6 L1366.3,595.7 L1366.7,595.7 L1367.1,595.7 L1367.6,595.7 L1368.0,595.8 L1368.4,595.8 L1368.8,595.8 L1369.3,595.9 L1369.7,595.9 L1370.1,595.9 L1370.5,595.9 L1370.9,596.0 L1371.4,596.0 L1371.8,596.0 L1372.2,596.0 L1372.6,596.1 L1373.1,596.1 L1373.5,596.1 L1373.9,596.1 L1374.3,596.2 L1374.8,596.2 L1375.2,596.2 L1375.6,596.2 L1376.0,596.2 L1376.4,596.3 L1376.9,596.3 L1377.3,596.3 L1377.7,596.3 L1378.1,596.4 L1378.6,596.4 L1379.0,596.4 L1379.4,596.4 L1379.8,596.4 L1380.3,596.5 L1380.7,596.5 L1381.1,596.5 L1381.5,596.5 L1381.9,596.5 L1382.4,596.6 L1382.8,596.6 L1383.2,596.6 L1383.6,596.6 L1384.1,596.6 L1384.5,596.6 L1384.9,596.7 L1385.3,596.7 L1385.8,596.7 L1386.2,596.7 L1386.6,596.7 L1387.0,596.7 L1387.4,596.8 L1387.9,596.8 L1388.3,596.8 L1388.7,596.8 L1389.1,596.8 L1389.6,596.8 L1390.0,596.9 L1390.4,596.9 L1390.8,596.9 L1391.2,596.9 L1391.7,596.9 L1392.1,596.9 L1392.5,597.0 L1392.9,597.0 L1393.4,597.0 L1393.8,597.0 L1394.2,597.0 L1394.6,597.0 L1395.1,597.0 L1395.5,597.1 L1395.9,597.1 L1396.3,597.1 L1396.7,597.1 L1397.2,597.1 L1397.6,597.1 L1398.0,597.1 L1398.4,597.1 L1398.9,597.2 L1399.3,597.2 L1399.7,597.2 L1400.1,597.2 L1400.6,597.2 L1401.0,597.2 L1401.4,597.2 L1401.8,597.2 L1402.2,597.3 L1402.7,597.3 L1403.1,597.3 L1403.5,597.3 L1403.9,597.3 L1404.4,597.3 L1404.8,597.3 L1405.2,597.3 L1405.6,597.4 L1406.1,597.4 L1406.5,597.4 L1406.9,597.4 L1407.3,597.4 L1407.7,597.4 L1408.2,597.4 L1408.6,597.4 L1409.0,597.4 L1409.4,597.4 L1409.9,597.5 L1410.3,597.5 L1410.7,597.5 L1411.1,597.5 L1411.5,597.5 L1412.0,597.5 L1412.4,597.5 L1412.8,597.5 L1413.2,597.5 L1413.7,597.6 L1414.1,597.6 L1414.5,597.6 L1414.9,597.6 L1415.4,597.6 L1415.8,597.6 L1416.2,597.6 L1416.6,597.6 L1417.0,597.6 L1417.5,597.6 L1417.9,597.6 L1418.3,597.7 L1418.7,597.7 L1419.2,597.7 L1419.6,597.7 L1420.0,597.7 L1420.4,597.7 L1420.9,597.7 L1421.3,597.7 L1421.7,597.7 L1422.1,597.7 L1422.5,597.7 L1423.0,597.7 L1423.4,597.8 L1423.8,597.8 L1424.2,597.8 L1424.7,597.8 L1425.1,597.8 L1425.5,597.8 L1425.9,597.8 L1426.4,597.8 L1426.8,597.8 L1427.2,597.8 L1427.6,597.8 L1428.0,597.8 L1428.5,597.9 L1428.9,597.9 L1429.3,597.9 L1429.7,597.9 L1430.2,597.9 L1430.6,597.9 L1431.0,597.9 L1431.4,597.9 L1431.8,597.9 L1432.3,597.9 L1432.7,597.9 L1433.1,597.9 L1433.5,597.9 L1434.0,597.9 L1434.4,598.0" fill="none" stroke="#2a77b8" stroke-width="12" stroke-linejoin="round"/>
<path d="M1313.0,262.0 L1313.0,265.9 L1313.1,276.9 L1313.1,287.2 L1313.2,296.7 L1313.3,305.5 L1313.4,313.8 L1313.4,321.6 L1313.5,328.9 L1313.6,335.7 L1313.7,342.2 L1313.8,348.3 L1313.8,354.1 L1313.9,359.6 L1314.0,364.8 L1314.1,369.8 L1314.1,374.5 L1314.2,379.0 L1314.3,383.3 L1314.4,387.4 L1314.5,391.3 L1314.5,395.1 L1314.6,398.7 L1314.7,402.2 L1314.8,405.5 L1314.8,408.7 L1314.9,411.8 L1315.0,414.7 L1315.1,417.6 L1315.1,420.4 L1315.2,423.0 L1315.3,425.6 L1315.4,428.1 L1315.5,430.5 L1315.5,432.8 L1315.6,435.1 L1315.7,437.3 L1315.8,439.4 L1315.8,441.5 L1315.9,443.5 L1316.0,445.4 L1316.1,447.3 L1316.2,449.1 L1316.2,450.9 L1316.3,452.6 L1316.4,454.3 L1316.5,456.0 L1316.5,457.6 L1316.6,459.1 L1316.7,460.6 L1316.8,462.1 L1316.9,463.6 L1316.9,465.0 L1317.0,466.4 L1317.1,467.7 L1317.2,469.0 L1317.2,470.3 L1317.3,471.6 L1317.4,472.8 L1317.5,474.0 L1317.5,475.2 L1317.6,476.3 L1317.7,477.5 L1317.8,478.6 L1317.9,479.7 L1317.9,480.7 L1318.0,481.8 L1318.1,482.8 L1318.2,483.8 L1318.2,484.7 L1318.3,485.7 L1318.4,486.6 L1318.5,487.6 L1318.6,488.5 L1318.6,489.4 L1318.7,490.2 L1318.8,491.1 L1318.9,491.9 L1318.9,492.8 L1319.0,493.6 L1319.1,494.4 L1319.2,495.2 L1319.3,496.0 L1319.3,496.7 L1319.4,497.5 L1319.5,498.2 L1319.6,498.9 L1319.6,499.6 L1319.7,500.3 L1319.8,501.0 L1319.9,501.7 L1319.9,502.4 L1320.0,503.0 L1320.1,503.7 L1320.2,504.3 L1320.3,504.9 L1320.3,505.6 L1320.4,506.2 L1320.5,506.8 L1320.6,507.4 L1320.6,507.9 L1320.7,508.5 L1320.8,509.1 L1320.9,509.7 L1321.0,510.2 L1321.0,510.7 L1321.1,511.3 L1321.2,511.8 L1321.3,512.3 L1321.3,512.9 L1321.4,513.4 L1321.5,513.9 L1321.6,514.4 L1321.7,514.8 L1321.7,515.3 L1321.8,515.8 L1321.9,516.3 L1322.0,516.7 L1322.0,517.2 L1322.1,517.7 L1322.2,518.1 L1322.3,518.5 L1322.3,519.0 L1322.4,519.4 L1322.5,519.8 L1322.6,520.3 L1322.7,520.7 L1322.7,521.1 L1322.8,521.5 L1322.9,521.9 L1323.0,522.3 L1323.0,522.7 L1323.1,523.1 L1323.2,523.5 L1323.3,523.8 L1323.4,524.2 L1323.4,524.6 L1323.5,525.0 L1323.6,525.3 L1323.7,525.7 L1323.7,526.0 L1323.8,526.4 L1323.9,526.7 L1324.0,527.1 L1324.0,527.4 L1324.1,527.7 L1324.2,528.1 L1324.3,528.4 L1324.4,528.7 L1324.4,529.1 L1324.5,529.4 L1324.6,529.7 L1324.7,530.0 L1324.7,530.3 L1324.8,530.6 L1324.9,530.9 L1325.0,531.2 L1325.1,531.5 L1327.4,539.3 L1329.7,545.4 L1332.0,550.2 L1334.3,554.2 L1336.7,557.5 L1339.0,560.3 L1341.3,562.8 L1343.6,564.9 L1346.0,566.8 L1348.3,568.4 L1350.6,569.9 L1352.9,571.2 L1355.3,572.4 L1357.6,573.5 L1359.9,574.5 L1362.2,575.4 L1364.5,576.3 L1366.9,577.1 L1369.2,577.8 L1371.5,578.4 L1373.8,579.1 L1376.2,579.6 L1378.5,580.2 L1380.8,580.7 L1383.1,581.2 L1385.5,581.6 L1387.8,582.1 L1390.1,582.5 L1392.4,582.8 L1394.7,583.2 L1397.1,583.6 L1399.4,583.9 L1401.7,584.2 L1404.0,584.5 L1406.4,584.8 L1408.7,585.0 L1411.0,585.3 L1413.3,585.5 L1415.6,585.8 L1418.0,586.0 L1420.3,586.2 L1422.6,586.4 L1424.9,586.6 L1427.3,586.8 L1429.6,587.0 L1431.9,587.2 L1434.2,587.4 L1436.6,587.5 L1438.9,587.7 L1441.2,587.9 L1443.5,588.0 L1445.8,588.2 L1448.2,588.3 L1450.5,588.4 L1452.8,588.6 L1455.1,588.7 L1457.5,588.8 L1459.8,589.0 L1462.1,589.1 L1464.4,589.2 L1466.8,589.3 L1469.1,589.4 L1471.4,589.5 L1473.7,589.6 L1476.0,589.7 L1478.4,589.8 L1480.7,589.9 L1483.0,590.0 L1485.3,590.1 L1487.7,590.2 L1490.0,590.3 L1492.3,590.3 L1494.6,590.4 L1497.0,590.5 L1499.3,590.6 L1501.6,590.7 L1503.9,590.7 L1506.2,590.8 L1508.6,590.9 L1510.9,590.9 L1513.2,591.0 L1515.5,591.1 L1517.9,591.1 L1520.2,591.2 L1522.5,591.3 L1524.8,591.3 L1527.1,591.4 L1529.5,591.5 L1531.8,591.5 L1534.1,591.6 L1536.4,591.6 L1538.8,591.7 L1541.1,591.7 L1543.4,591.8 L1545.7,591.8 L1548.1,591.9 L1550.4,591.9 L1552.7,592.0 L1555.0,592.0 L1557.3,592.1 L1559.7,592.1 L1562.0,592.2 L1564.3,592.2 L1566.6,592.2 L1569.0,592.3 L1571.3,592.3 L1573.6,592.4 L1575.9,592.4 L1578.3,592.5 L1580.6,592.5 L1582.9,592.5 L1585.2,592.6 L1587.5,592.6 L1589.9,592.6 L1592.2,592.7 L1594.5,592.7 L1596.8,592.7 L1599.2,592.8 L1601.5,592.8 L1603.8,592.8 L1606.1,592.9 L1608.4,592.9 L1610.8,592.9 L1613.1,593.0 L1615.4,593.0 L1617.7,593.0 L1620.1,593.1 L1622.4,593.1 L1624.7,593.1 L1627.0,593.2 L1629.4,593.2 L1631.7,593.2 L1634.0,593.2 L1636.3,593.3 L1638.6,593.3 L1641.0,593.3 L1643.3,593.3 L1645.6,593.4 L1647.9,593.4 L1650.3,593.4 L1652.6,593.4 L1654.9,593.5 L1657.2,593.5 L1659.6,593.5 L1661.9,593.5 L1664.2,593.6 L1666.5,593.6 L1668.8,593.6 L1671.2,593.6 L1673.5,593.7 L1675.8,593.7 L1678.1,593.7 L1680.5,593.7 L1682.8,593.7 L1685.1,593.8 L1687.4,593.8 L1689.8,593.8 L1692.1,593.8 L1694.4,593.8 L1696.7,593.9 L1699.0,593.9 L1701.4,593.9 L1703.7,593.9 L1706.0,593.9 L1708.3,594.0 L1710.7,594.0 L1713.0,594.0 L1715.3,594.0 L1717.6,594.0 L1719.9,594.0 L1722.3,594.1 L1724.6,594.1 L1726.9,594.1 L1729.2,594.1 L1731.6,594.1 L1733.9,594.2 L1736.2,594.2 L1738.5,594.2 L1740.9,594.2 L1743.2,594.2 L1745.5,594.2 L1747.8,594.2 L1750.1,594.3 L1752.5,594.3 L1754.8,594.3 L1757.1,594.3 L1759.4,594.3 L1761.8,594.3 L1764.1,594.3 L1766.4,594.4 L1768.7,594.4 L1771.1,594.4 L1773.4,594.4 L1775.7,594.4 L1778.0,594.4 L1780.3,594.4 L1782.7,594.5 L1785.0,594.5 L1787.3,594.5 L1789.6,594.5 L1792.0,594.5 L1794.3,594.5 L1796.6,594.5 L1798.9,594.5 L1801.3,594.6 L1803.6,594.6 L1805.9,594.6 L1808.2,594.6 L1810.5,594.6 L1812.9,594.6 L1815.2,594.6 L1817.5,594.6 L1819.8,594.7 L1822.2,594.7 L1824.5,594.7 L1826.8,594.7 L1829.1,594.7 L1831.4,594.7 L1833.8,594.7 L1836.1,594.7 L1838.4,594.7 L1840.7,594.8 L1843.1,594.8 L1845.4,594.8 L1847.7,594.8 L1850.0,594.8 L1852.4,594.8 L1854.7,594.8 L1857.0,594.8 L1859.3,594.8 L1861.6,594.8 L1864.0,594.9 L1866.3,594.9 L1868.6,594.9 L1870.9,594.9 L1873.3,594.9 L1875.6,594.9 L1877.9,594.9 L1880.2,594.9 L1882.6,594.9 L1884.9,594.9 L1887.2,595.0 L1889.5,595.0 L1891.8,595.0 L1894.2,595.0 L1896.5,595.0 L1898.8,595.0 L1901.1,595.0 L1903.5,595.0 L1905.8,595.0 L1908.1,595.0 L1910.4,595.0 L1912.8,595.0 L1915.1,595.1 L1917.4,595.1 L1919.7,595.1 L1922.0,595.1 L1924.4,595.1 L1926.7,595.1" fill="none" stroke="#ec6d42" stroke-width="13" stroke-linejoin="round"/>
<line x1="185" y1="1004.4" x2="197.1" y2="1004.4" stroke="#000" stroke-opacity="0.16" stroke-width="5.5"/>
<line x1="185" y1="1081.63" x2="197.1" y2="1081.63" stroke="#000" stroke-opacity="0.16" stroke-width="5.5"/>
<line x1="185" y1="1158.86" x2="197.1" y2="1158.86" stroke="#000" stroke-opacity="0.16" stroke-width="5.5"/>
<line x1="185" y1="1236.09" x2="197.1" y2="1236.09" stroke="#000" stroke-opacity="0.16" stroke-width="5.5"/>
<line x1="185" y1="1313.31" x2="197.1" y2="1313.31" stroke="#000" stroke-opacity="0.16" stroke-width="5.5"/>
<line x1="185" y1="1390.54" x2="197.1" y2="1390.54" stroke="#000" stroke-opacity="0.16" stroke-width="5.5"/>
<line x1="185" y1="1467.77" x2="197.1" y2="1467.77" stroke="#000" stroke-opacity="0.16" stroke-width="5.5"/>
<line x1="185" y1="1545" x2="197.1" y2="1545" stroke="#000" stroke-opacity="0.16" stroke-width="5.5"/>
<line x1="200.6" y1="1548" x2="200.6" y2="1560.5" stroke="#000" stroke-opacity="0.16" stroke-width="7"/>
<line x1="303.06" y1="1548" x2="303.06" y2="1560.5" stroke="#000" stroke-opacity="0.16" stroke-width="7"/>
<line x1="405.52" y1="1548" x2="405.52" y2="1560.5" stroke="#000" stroke-opacity="0.16" stroke-width="7"/>
<line x1="507.99" y1="1548" x2="507.99" y2="1560.5" stroke="#000" stroke-opacity="0.16" stroke-width="7"/>
<line x1="610.45" y1="1548" x2="610.45" y2="1560.5" stroke="#000" stroke-opacity="0.16" stroke-width="7"/>
<line x1="712.91" y1="1548" x2="712.91" y2="1560.5" stroke="#000" stroke-opacity="0.16" stroke-width="7"/>
<line x1="815.38" y1="1548" x2="815.38" y2="1560.5" stroke="#000" stroke-opacity="0.16" stroke-width="7"/>
<line x1="917.84" y1="1548" x2="917.84" y2="1560.5" stroke="#000" stroke-opacity="0.16" stroke-width="7"/>
<line x1="1020.3" y1="1548" x2="1020.3" y2="1560.5" stroke="#000" stroke-opacity="0.16" stroke-width="7"/>
<line x1="197.1" y1="1004.4" x2="1022.8" y2="1004.4" stroke="#000" stroke-opacity="0.14" stroke-width="5.5"/>
<line x1="197.1" y1="1081.63" x2="1022.8" y2="1081.63" stroke="#000" stroke-opacity="0.2" stroke-width="5.5"/>
<line x1="197.1" y1="1158.86" x2="1022.8" y2="1158.86" stroke="#000" stroke-opacity="0.2" stroke-width="5.5"/>
<line x1="197.1" y1="1236.09" x2="1022.8" y2="1236.09" stroke="#000" stroke-opacity="0.2" stroke-width="5.5"/>
<line x1="197.1" y1="1313.31" x2="1022.8" y2="1313.31" stroke="#000" stroke-opacity="0.2" stroke-width="5.5"/>
<line x1="197.1" y1="1390.54" x2="1022.8" y2="1390.54" stroke="#000" stroke-opacity="0.2" stroke-width="5.5"/>
<line x1="197.1" y1="1545" x2="1022.8" y2="1545" stroke="#000" stroke-opacity="0.2" stroke-width="5.5"/>
<line x1="200.6" y1="1001.9" x2="200.6" y2="1548" stroke="#000" stroke-opacity="0.28" stroke-width="7"/>
<line x1="405.52" y1="1001.9" x2="405.52" y2="1548" stroke="#000" stroke-opacity="0.2" stroke-width="7"/>
<line x1="507.99" y1="1001.9" x2="507.99" y2="1548" stroke="#000" stroke-opacity="0.2" stroke-width="7"/>
<line x1="610.45" y1="1001.9" x2="610.45" y2="1548" stroke="#000" stroke-opacity="0.2" stroke-width="7"/>
<line x1="712.91" y1="1001.9" x2="712.91" y2="1548" stroke="#000" stroke-opacity="0.2" stroke-width="7"/>
<line x1="815.38" y1="1001.9" x2="815.38" y2="1548" stroke="#000" stroke-opacity="0.2" stroke-width="7"/>
<line x1="917.84" y1="1001.9" x2="917.84" y2="1548" stroke="#000" stroke-opacity="0.2" stroke-width="7"/>
<line x1="1020.3" y1="1001.9" x2="1020.3" y2="1548" stroke="#000" stroke-opacity="0.15" stroke-width="7"/>
<line x1="197.1" y1="1467.77" x2="1022.8" y2="1467.77" stroke="#9a9a9a" stroke-width="10"/>
<line x1="303.06" y1="1001.9" x2="303.06" y2="1548" stroke="#9a9a9a" stroke-width="10"/>
<text class="tk" x="169.1" y="1092.13" text-anchor="end">0.25</text>
<text class="tk" x="169.1" y="1169.36" text-anchor="end">0.2</text>
<text class="tk" x="169.1" y="1246.59" text-anchor="end">0.15</text>
<text class="tk" x="169.1" y="1323.81" text-anchor="end">0.1</text>
<text class="tk" x="169.1" y="1401.04" text-anchor="end">0.05</text>
<text class="tk" x="169.1" y="1478.27" text-anchor="end">0</text>
<text class="tk" x="303.06" y="1604" text-anchor="middle">0</text>
<text class="tk" x="405.52" y="1604" text-anchor="middle">500</text>
<text class="tk" x="507.99" y="1604" text-anchor="middle">1k</text>
<text class="tk" x="610.45" y="1604" text-anchor="middle">1.5k</text>
<text class="tk" x="712.91" y="1604" text-anchor="middle">2k</text>
<text class="tk" x="815.38" y="1604" text-anchor="middle">2.5k</text>
<text class="tk" x="917.84" y="1604" text-anchor="middle">3k</text>
<polygon points="326,1416 328,1389 333,1387 340,1392 341,1418" fill="#fbd6c8" fill-opacity="0.7"/>
<path d="M311.3,1442.3 L312.3,1457.2 L313.3,1456.9 L314.3,1458.3 L315.4,1464.0 L316.4,1463.6 L317.4,1460.1 L318.4,1455.0 L319.5,1458.1 L320.5,1458.8 L321.5,1451.8 L322.5,1454.6 L323.6,1451.6 L324.6,1454.7 L325.6,1456.6 L326.6,1459.1 L327.7,1459.3 L328.7,1456.9 L329.7,1457.5 L330.7,1462.7 L331.8,1456.0 L332.8,1460.0 L333.8,1463.6 L334.8,1456.1 L335.9,1461.0 L336.9,1461.1 L337.9,1452.4 L338.9,1459.5 L339.9,1450.4 L341.0,1455.4 L342.0,1456.8 L343.0,1455.0 L344.0,1471.5 L345.1,1465.9 L346.1,1474.0 L347.1,1451.2 L348.1,1446.9 L349.2,1457.0 L350.2,1455.0 L351.2,1451.3 L352.2,1459.4 L353.3,1458.8 L354.3,1442.0 L355.3,1459.7 L356.3,1458.3 L357.4,1457.1 L358.4,1462.7 L359.4,1451.3 L360.4,1464.1 L361.5,1447.2 L362.5,1455.4 L363.5,1452.1 L364.5,1457.2 L365.6,1461.9 L366.6,1452.4 L367.6,1456.8 L368.6,1468.4 L369.7,1462.3 L370.7,1455.2 L371.7,1457.1 L372.7,1457.2 L373.8,1464.5 L374.8,1459.0 L375.8,1458.5 L376.8,1462.4 L377.9,1471.0 L378.9,1466.6 L379.9,1464.4 L380.9,1458.8 L382.0,1454.7 L383.0,1454.4 L384.0,1457.3 L385.0,1465.8 L386.1,1473.1 L387.1,1451.2 L388.1,1451.0 L389.1,1457.3 L390.2,1461.0 L391.2,1466.1 L392.2,1461.0 L393.2,1461.1 L394.3,1459.0 L395.3,1461.2 L396.3,1462.1 L397.3,1466.6 L398.4,1458.5 L399.4,1458.7 L400.4,1457.3 L401.4,1454.8 L402.5,1455.0 L403.5,1446.2 L404.5,1473.3 L405.5,1461.8 L406.5,1470.4 L407.6,1470.6 L408.6,1461.3 L409.6,1459.2 L410.6,1447.6 L411.7,1471.5 L412.7,1455.5 L413.7,1470.3 L414.7,1469.1 L415.8,1459.4 L416.8,1456.3 L417.8,1450.7 L418.8,1457.3 L419.9,1459.9 L420.9,1455.5 L421.9,1459.4 L422.9,1455.9 L424.0,1452.2 L425.0,1462.1 L426.0,1449.4 L427.0,1465.2 L428.1,1439.5 L429.1,1464.2 L430.1,1449.4 L431.1,1465.8 L432.2,1451.7 L433.2,1458.2 L434.2,1458.7 L435.2,1461.7 L436.3,1450.9 L437.3,1459.3 L438.3,1463.5 L439.3,1458.9 L440.4,1451.1 L441.4,1448.4 L442.4,1456.4 L443.4,1454.5 L444.5,1445.7 L445.5,1458.7 L446.5,1453.2 L447.5,1458.8 L448.6,1465.8 L449.6,1444.4 L450.6,1452.9 L451.6,1460.0 L452.7,1458.2 L453.7,1456.7 L454.7,1458.3 L455.7,1466.7 L456.8,1467.6 L457.8,1463.3 L458.8,1452.4 L459.8,1458.3 L460.9,1464.5 L461.9,1461.1 L462.9,1458.7 L463.9,1455.1 L465.0,1458.1 L466.0,1451.9 L467.0,1456.0 L468.0,1451.3 L469.1,1457.8 L470.1,1442.1 L471.1,1471.4 L472.1,1459.9 L473.2,1450.0 L474.2,1446.9 L475.2,1458.4 L476.2,1455.6 L477.2,1453.3 L478.3,1467.4 L479.3,1457.8 L480.3,1456.2 L481.3,1459.2 L482.4,1457.6 L483.4,1458.5 L484.4,1449.1 L485.4,1456.9 L486.5,1450.9 L487.5,1470.0 L488.5,1461.9 L489.5,1458.1 L490.6,1461.4 L491.6,1464.0 L492.6,1454.3 L493.6,1455.7 L494.7,1448.8 L495.7,1460.5 L496.7,1455.2 L497.7,1456.5 L498.8,1458.3 L499.8,1458.0 L500.8,1455.0 L501.8,1448.4 L502.9,1464.1 L503.9,1449.2 L504.9,1441.9 L505.9,1466.1 L507.0,1459.7 L508.0,1458.5 L509.0,1457.4 L510.0,1462.2 L511.1,1451.4 L512.1,1466.0 L513.1,1458.9 L514.1,1454.8 L515.2,1450.3 L516.2,1466.3 L517.2,1454.3 L518.2,1458.6 L519.3,1453.9 L520.3,1454.1 L521.3,1454.7 L522.3,1465.5 L523.4,1459.1 L524.4,1461.1 L525.4,1462.1 L526.4,1470.0 L527.5,1458.1 L528.5,1447.3 L529.5,1457.7 L530.5,1451.3 L531.6,1453.6 L532.6,1447.1 L533.6,1456.0 L534.6,1462.8 L535.7,1457.6 L536.7,1455.1 L537.7,1453.9 L538.7,1461.5 L539.8,1456.9 L540.8,1459.5 L541.8,1465.1 L542.8,1459.2 L543.8,1458.7 L544.9,1445.2 L545.9,1452.9 L546.9,1459.6 L547.9,1457.5 L549.0,1450.2 L550.0,1454.7 L551.0,1468.7 L552.0,1456.5 L553.1,1441.8 L554.1,1451.1 L555.1,1455.6 L556.1,1451.6 L557.2,1455.3 L558.2,1457.5 L559.2,1457.8 L560.2,1460.1 L561.3,1457.1 L562.3,1460.5 L563.3,1465.2 L564.3,1453.3 L565.4,1469.2 L566.4,1462.3 L567.4,1454.0 L568.4,1452.7 L569.5,1447.7 L570.5,1446.5 L571.5,1462.9 L572.5,1449.9 L573.6,1450.7 L574.6,1451.5 L575.6,1458.3 L576.6,1459.2 L577.7,1444.4 L578.7,1459.1 L579.7,1448.3 L580.7,1459.0 L581.8,1449.7 L582.8,1474.0 L583.8,1455.8 L584.8,1455.4 L585.9,1458.3 L586.9,1456.5 L587.9,1457.2 L588.9,1463.1 L590.0,1466.6 L591.0,1442.4 L592.0,1469.2 L593.0,1461.1 L594.1,1456.9 L595.1,1459.5 L596.1,1461.0 L597.1,1457.8 L598.2,1458.2 L599.2,1458.5 L600.2,1462.3 L601.2,1466.3 L602.3,1461.9 L603.3,1458.1 L604.3,1454.5 L605.3,1457.1 L606.4,1461.7 L607.4,1462.6 L608.4,1459.8 L609.4,1451.0 L610.4,1458.6 L611.5,1457.9 L612.5,1470.7 L613.5,1468.5 L614.5,1454.2 L615.6,1466.6 L616.6,1462.9 L617.6,1472.6 L618.6,1448.4 L619.7,1452.9 L620.7,1447.2 L621.7,1458.5 L622.7,1448.5 L623.8,1456.0 L624.8,1446.6 L625.8,1464.4 L626.8,1461.2 L627.9,1457.6 L628.9,1452.6 L629.9,1456.5 L630.9,1454.9 L632.0,1466.9 L633.0,1463.2 L634.0,1459.9 L635.0,1458.4 L636.1,1462.1 L637.1,1471.6 L638.1,1458.0 L639.1,1456.3 L640.2,1457.9 L641.2,1449.3 L642.2,1460.1 L643.2,1464.0 L644.3,1456.7 L645.3,1446.6 L646.3,1440.6 L647.3,1468.5 L648.4,1462.2 L649.4,1458.2 L650.4,1462.6 L651.4,1460.0 L652.5,1456.7 L653.5,1456.8 L654.5,1449.2 L655.5,1452.8 L656.6,1458.4 L657.6,1459.6 L658.6,1442.3 L659.6,1463.4 L660.7,1444.8 L661.7,1456.1 L662.7,1458.3 L663.7,1457.3 L664.8,1449.0 L665.8,1460.5 L666.8,1472.5 L667.8,1454.3 L668.9,1464.7 L669.9,1464.9 L670.9,1460.5 L671.9,1456.6 L673.0,1462.3 L674.0,1455.8 L675.0,1460.6 L676.0,1462.1 L677.1,1456.2 L678.1,1454.7 L679.1,1457.1 L680.1,1457.8 L681.1,1456.6 L682.2,1451.7 L683.2,1462.2 L684.2,1458.7 L685.2,1468.9 L686.3,1470.6 L687.3,1463.4 L688.3,1458.4 L689.3,1461.2 L690.4,1454.9 L691.4,1449.2 L692.4,1454.2 L693.4,1461.8 L694.5,1451.2 L695.5,1464.4 L696.5,1460.2 L697.5,1470.0 L698.6,1463.6 L699.6,1472.1 L700.6,1458.1 L701.6,1440.5 L702.7,1450.4 L703.7,1458.3 L704.7,1460.7 L705.7,1470.8 L706.8,1457.2 L707.8,1456.2 L708.8,1459.5 L709.8,1467.6 L710.9,1458.8 L711.9,1448.7 L712.9,1463.9 L713.9,1465.5 L715.0,1448.0 L716.0,1463.4 L717.0,1451.0 L718.0,1464.9 L719.1,1453.2 L720.1,1458.0 L721.1,1456.7 L722.1,1457.9 L723.2,1457.0 L724.2,1451.7 L725.2,1448.8 L726.2,1461.5 L727.3,1462.5 L728.3,1460.2 L729.3,1458.5 L730.3,1455.4 L731.4,1458.1 L732.4,1448.9 L733.4,1455.3 L734.4,1460.2 L735.5,1455.4 L736.5,1462.3 L737.5,1459.4 L738.5,1460.6 L739.6,1458.9 L740.6,1463.3 L741.6,1460.7 L742.6,1458.8 L743.7,1458.7 L744.7,1460.4 L745.7,1456.6 L746.7,1445.6 L747.7,1447.5 L748.8,1462.1 L749.8,1453.9 L750.8,1457.4 L751.8,1447.6 L752.9,1461.5 L753.9,1457.8 L754.9,1468.4 L755.9,1462.8 L757.0,1458.8 L758.0,1458.9 L759.0,1458.9 L760.0,1467.5 L761.1,1460.5 L762.1,1458.0 L763.1,1475.2 L764.1,1454.0 L765.2,1454.8 L766.2,1463.9 L767.2,1461.1 L768.2,1458.6 L769.3,1469.2 L770.3,1454.9 L771.3,1451.9 L772.3,1454.0 L773.4,1451.3 L774.4,1456.5 L775.4,1460.0 L776.4,1448.7 L777.5,1464.5 L778.5,1459.4 L779.5,1459.6 L780.5,1461.9 L781.6,1447.9 L782.6,1455.0 L783.6,1461.5 L784.6,1458.7 L785.7,1466.9 L786.7,1467.6 L787.7,1466.7 L788.7,1468.0 L789.8,1454.3 L790.8,1471.2 L791.8,1476.4 L792.8,1447.2 L793.9,1453.1 L794.9,1456.1 L795.9,1457.2 L796.9,1454.1 L798.0,1458.3 L799.0,1474.2 L800.0,1460.7 L801.0,1444.4 L802.1,1466.0 L803.1,1458.9 L804.1,1461.0 L805.1,1447.9 L806.2,1457.1 L807.2,1456.7 L808.2,1453.0 L809.2,1462.9 L810.3,1441.8 L811.3,1450.4 L812.3,1456.3 L813.3,1453.5 L814.4,1464.1 L815.4,1458.5 L816.4,1457.3 L817.4,1462.5 L818.4,1463.7 L819.5,1459.8 L820.5,1454.3 L821.5,1462.8 L822.5,1463.6 L823.6,1460.0 L824.6,1474.3 L825.6,1468.7 L826.6,1444.7 L827.7,1458.3 L828.7,1462.2 L829.7,1451.7 L830.7,1457.5 L831.8,1468.2 L832.8,1465.4 L833.8,1458.3 L834.8,1464.0 L835.9,1461.5 L836.9,1462.4 L837.9,1467.9 L838.9,1463.2 L840.0,1448.0 L841.0,1463.2 L842.0,1450.4 L843.0,1454.8 L844.1,1460.9 L845.1,1460.8 L846.1,1458.2 L847.1,1459.6 L848.2,1462.6 L849.2,1467.1 L850.2,1451.8 L851.2,1456.1 L852.3,1471.3 L853.3,1456.9 L854.3,1463.7 L855.3,1457.1 L856.4,1460.3 L857.4,1457.0 L858.4,1463.8 L859.4,1455.5 L860.5,1468.7 L861.5,1456.1 L862.5,1458.6 L863.5,1457.0 L864.6,1460.7 L865.6,1458.6 L866.6,1460.2 L867.6,1455.1 L868.7,1458.6 L869.7,1459.2 L870.7,1457.9 L871.7,1458.4 L872.8,1452.4 L873.8,1461.7 L874.8,1457.0 L875.8,1465.9 L876.9,1458.4 L877.9,1456.7 L878.9,1463.0 L879.9,1459.8 L881.0,1467.8 L882.0,1460.0 L883.0,1452.3 L884.0,1459.0 L885.0,1465.4 L886.1,1476.4 L887.1,1472.9 L888.1,1453.8 L889.1,1456.3 L890.2,1452.2 L891.2,1447.3 L892.2,1448.6 L893.2,1458.8 L894.3,1468.4 L895.3,1458.2 L896.3,1458.5 L897.3,1448.8 L898.4,1456.8 L899.4,1451.2 L900.4,1457.3 L901.4,1470.2 L902.5,1456.8 L903.5,1465.8 L904.5,1458.5 L905.5,1448.8 L906.6,1446.3 L907.6,1462.0 L908.6,1461.2 L909.6,1459.4 L910.7,1459.4 L911.7,1458.3 L912.7,1453.9 L913.7,1442.6 L914.8,1459.3 L915.8,1456.4 L916.8,1477.6 L917.8,1457.1" fill="none" stroke="#f5b49c" stroke-opacity="0.35" stroke-width="2.2"/>
<path d="M311.3,1467.3 L312.3,1485.7 L313.3,1481.6 L314.3,1485.4 L315.4,1483.1 L316.4,1467.6 L317.4,1475.8 L318.4,1471.9 L319.5,1473.3 L320.5,1470.0 L321.5,1480.9 L322.5,1485.6 L323.6,1471.9 L324.6,1475.9 L325.6,1473.4 L326.6,1460.5 L327.7,1480.0 L328.7,1475.5 L329.7,1469.1 L330.7,1462.2 L331.8,1470.4 L332.8,1465.6 L333.8,1481.4 L334.8,1475.8 L335.9,1474.5 L336.9,1471.6 L337.9,1473.7 L338.9,1468.7 L339.9,1480.0 L341.0,1479.7 L342.0,1471.8 L343.0,1469.5 L344.0,1474.9 L345.1,1475.7 L346.1,1472.8 L347.1,1470.5 L348.1,1474.2 L349.2,1474.5 L350.2,1475.4 L351.2,1490.9 L352.2,1467.6 L353.3,1473.1 L354.3,1475.3 L355.3,1477.1 L356.3,1476.5 L357.4,1461.9 L358.4,1473.9 L359.4,1478.7 L360.4,1471.0 L361.5,1469.5 L362.5,1477.2 L363.5,1470.9 L364.5,1470.7 L365.6,1482.2 L366.6,1486.5 L367.6,1467.2 L368.6,1470.8 L369.7,1474.3 L370.7,1487.7 L371.7,1489.5 L372.7,1472.5 L373.8,1489.1 L374.8,1472.8 L375.8,1475.6 L376.8,1473.9 L377.9,1468.5 L378.9,1472.0 L379.9,1471.4 L380.9,1471.7 L382.0,1458.6 L383.0,1469.7 L384.0,1475.7 L385.0,1487.2 L386.1,1481.0 L387.1,1480.1 L388.1,1476.8 L389.1,1468.4 L390.2,1470.0 L391.2,1474.5 L392.2,1484.3 L393.2,1472.8 L394.3,1478.4 L395.3,1472.9 L396.3,1476.9 L397.3,1465.3 L398.4,1476.3 L399.4,1478.8 L400.4,1471.8 L401.4,1475.5 L402.5,1464.8 L403.5,1470.0 L404.5,1471.2 L405.5,1468.1 L406.5,1482.2 L407.6,1465.4 L408.6,1474.5 L409.6,1475.9 L410.6,1476.3 L411.7,1473.4 L412.7,1481.5 L413.7,1458.8 L414.7,1479.7 L415.8,1466.8 L416.8,1475.0 L417.8,1468.8 L418.8,1475.5 L419.9,1485.8 L420.9,1466.6 L421.9,1471.0 L422.9,1480.6 L424.0,1475.6 L425.0,1484.5 L426.0,1482.0 L427.0,1472.8 L428.1,1474.0 L429.1,1473.8 L430.1,1465.7 L431.1,1462.9 L432.2,1469.5 L433.2,1483.5 L434.2,1482.9 L435.2,1481.1 L436.3,1464.5 L437.3,1475.9 L438.3,1476.8 L439.3,1478.3 L440.4,1474.2 L441.4,1473.5 L442.4,1474.8 L443.4,1472.4 L444.5,1471.0 L445.5,1473.9 L446.5,1479.4 L447.5,1472.9 L448.6,1473.3 L449.6,1466.6 L450.6,1464.6 L451.6,1473.5 L452.7,1478.1 L453.7,1467.7 L454.7,1476.2 L455.7,1471.5 L456.8,1485.2 L457.8,1483.2 L458.8,1469.6 L459.8,1471.9 L460.9,1482.7 L461.9,1475.2 L462.9,1468.4 L463.9,1469.7 L465.0,1480.0 L466.0,1484.0 L467.0,1472.4 L468.0,1490.8 L469.1,1480.1 L470.1,1475.0 L471.1,1474.6 L472.1,1464.1 L473.2,1472.4 L474.2,1474.6 L475.2,1461.3 L476.2,1459.9 L477.2,1471.9 L478.3,1474.4 L479.3,1469.7 L480.3,1466.5 L481.3,1473.2 L482.4,1479.9 L483.4,1472.3 L484.4,1474.6 L485.4,1477.8 L486.5,1459.1 L487.5,1487.7 L488.5,1481.6 L489.5,1459.8 L490.6,1459.7 L491.6,1473.8 L492.6,1480.1 L493.6,1470.7 L494.7,1484.8 L495.7,1472.2 L496.7,1478.9 L497.7,1473.5 L498.8,1469.7 L499.8,1471.2 L500.8,1479.9 L501.8,1470.4 L502.9,1459.0 L503.9,1465.9 L504.9,1477.9 L505.9,1472.7 L507.0,1474.1 L508.0,1460.0 L509.0,1478.2 L510.0,1480.3 L511.1,1462.4 L512.1,1482.0 L513.1,1486.6 L514.1,1471.9 L515.2,1473.3 L516.2,1463.1 L517.2,1470.6 L518.2,1481.2 L519.3,1465.0 L520.3,1478.2 L521.3,1478.6 L522.3,1462.4 L523.4,1484.0 L524.4,1468.3 L525.4,1486.3 L526.4,1474.8 L527.5,1467.9 L528.5,1477.5 L529.5,1467.5 L530.5,1474.2 L531.6,1476.0 L532.6,1481.4 L533.6,1475.7 L534.6,1463.1 L535.7,1481.4 L536.7,1477.9 L537.7,1475.6 L538.7,1468.5 L539.8,1481.5 L540.8,1482.0 L541.8,1476.2 L542.8,1478.7 L543.8,1473.1 L544.9,1470.3 L545.9,1481.4 L546.9,1466.0 L547.9,1465.7 L549.0,1475.0 L550.0,1474.7 L551.0,1472.4 L552.0,1480.0 L553.1,1482.3 L554.1,1467.7 L555.1,1476.8 L556.1,1480.1 L557.2,1463.9 L558.2,1474.3 L559.2,1473.6 L560.2,1480.5 L561.3,1472.6 L562.3,1462.1 L563.3,1472.3 L564.3,1473.7 L565.4,1473.9 L566.4,1467.7 L567.4,1473.0 L568.4,1473.6 L569.5,1474.1 L570.5,1473.6 L571.5,1489.5 L572.5,1476.4 L573.6,1469.4 L574.6,1461.4 L575.6,1477.4 L576.6,1478.7 L577.7,1470.6 L578.7,1466.1 L579.7,1486.1 L580.7,1475.9 L581.8,1485.0 L582.8,1475.2 L583.8,1465.0 L584.8,1475.6 L585.9,1470.6 L586.9,1473.4 L587.9,1475.3 L588.9,1481.1 L590.0,1472.9 L591.0,1478.8 L592.0,1472.2 L593.0,1470.1 L594.1,1474.5 L595.1,1470.8 L596.1,1479.3 L597.1,1475.5 L598.2,1472.1 L599.2,1473.4 L600.2,1474.3 L601.2,1474.3 L602.3,1478.8 L603.3,1480.8 L604.3,1486.0 L605.3,1465.2 L606.4,1481.5 L607.4,1467.4 L608.4,1472.2 L609.4,1477.1 L610.4,1470.2 L611.5,1474.5 L612.5,1479.8 L613.5,1470.3 L614.5,1470.0 L615.6,1486.1 L616.6,1474.0 L617.6,1477.1 L618.6,1471.5 L619.7,1482.3 L620.7,1470.1 L621.7,1481.8 L622.7,1471.5 L623.8,1470.3 L624.8,1478.3 L625.8,1472.3 L626.8,1485.3 L627.9,1467.6 L628.9,1472.4 L629.9,1482.5 L630.9,1464.8 L632.0,1475.4 L633.0,1463.1 L634.0,1469.1 L635.0,1472.3 L636.1,1479.5 L637.1,1478.2 L638.1,1474.8 L639.1,1461.6 L640.2,1475.4 L641.2,1478.8 L642.2,1467.0 L643.2,1477.1 L644.3,1468.4 L645.3,1456.1 L646.3,1471.3 L647.3,1478.2 L648.4,1482.0 L649.4,1478.8 L650.4,1463.8 L651.4,1488.0 L652.5,1460.7 L653.5,1474.3 L654.5,1468.0 L655.5,1482.2 L656.6,1470.6 L657.6,1472.5 L658.6,1474.7 L659.6,1479.8 L660.7,1477.7 L661.7,1473.9 L662.7,1469.3 L663.7,1463.0 L664.8,1470.4 L665.8,1470.7 L666.8,1475.1 L667.8,1475.3 L668.9,1477.6 L669.9,1466.5 L670.9,1470.2 L671.9,1473.7 L673.0,1469.0 L674.0,1475.3 L675.0,1471.1 L676.0,1480.6 L677.1,1472.5 L678.1,1475.9 L679.1,1474.1 L680.1,1474.3 L681.1,1463.0 L682.2,1478.6 L683.2,1476.7 L684.2,1475.1 L685.2,1471.7 L686.3,1470.8 L687.3,1479.9 L688.3,1474.0 L689.3,1478.2 L690.4,1478.6 L691.4,1478.6 L692.4,1484.1 L693.4,1474.5 L694.5,1464.5 L695.5,1477.2 L696.5,1476.8 L697.5,1463.4 L698.6,1468.3 L699.6,1466.0 L700.6,1471.3 L701.6,1461.1 L702.7,1482.1 L703.7,1460.0 L704.7,1473.4 L705.7,1470.6 L706.8,1481.7 L707.8,1474.8 L708.8,1472.9 L709.8,1477.0 L710.9,1478.3 L711.9,1474.0 L712.9,1467.2 L713.9,1476.2 L715.0,1470.7 L716.0,1472.1 L717.0,1473.3 L718.0,1460.9 L719.1,1475.2 L720.1,1465.3 L721.1,1478.3 L722.1,1484.4 L723.2,1478.0 L724.2,1474.3 L725.2,1476.9 L726.2,1467.4 L727.3,1480.0 L728.3,1473.4 L729.3,1473.8 L730.3,1474.0 L731.4,1472.1 L732.4,1467.8 L733.4,1475.3 L734.4,1487.3 L735.5,1471.8 L736.5,1474.3 L737.5,1477.7 L738.5,1475.2 L739.6,1474.9 L740.6,1472.7 L741.6,1475.4 L742.6,1472.3 L743.7,1462.1 L744.7,1465.7 L745.7,1473.7 L746.7,1478.2 L747.7,1466.8 L748.8,1480.6 L749.8,1473.7 L750.8,1483.7 L751.8,1485.3 L752.9,1486.4 L753.9,1478.3 L754.9,1470.9 L755.9,1479.3 L757.0,1474.4 L758.0,1485.3 L759.0,1479.6 L760.0,1475.0 L761.1,1474.4 L762.1,1477.1 L763.1,1464.6 L764.1,1467.5 L765.2,1476.4 L766.2,1482.8 L767.2,1472.6 L768.2,1485.0 L769.3,1475.9 L770.3,1481.2 L771.3,1470.7 L772.3,1471.9 L773.4,1476.2 L774.4,1478.8 L775.4,1478.3 L776.4,1474.5 L777.5,1468.3 L778.5,1481.1 L779.5,1478.8 L780.5,1461.9 L781.6,1473.5 L782.6,1486.1 L783.6,1487.6 L784.6,1476.7 L785.7,1480.3 L786.7,1474.9 L787.7,1475.0 L788.7,1480.5 L789.8,1476.8 L790.8,1459.8 L791.8,1475.8 L792.8,1476.4 L793.9,1471.8 L794.9,1485.7 L795.9,1467.2 L796.9,1481.9 L798.0,1473.8 L799.0,1475.5 L800.0,1472.3 L801.0,1485.9 L802.1,1473.8 L803.1,1462.0 L804.1,1479.2 L805.1,1472.8 L806.2,1470.0 L807.2,1473.3 L808.2,1471.4 L809.2,1478.6 L810.3,1471.8 L811.3,1477.3 L812.3,1471.9 L813.3,1478.3 L814.4,1473.9 L815.4,1463.5 L816.4,1461.5 L817.4,1474.4 L818.4,1467.9 L819.5,1468.7 L820.5,1482.0 L821.5,1470.7 L822.5,1471.8 L823.6,1465.6 L824.6,1483.0 L825.6,1475.3 L826.6,1471.6 L827.7,1473.1 L828.7,1472.9 L829.7,1476.5 L830.7,1480.7 L831.8,1472.9 L832.8,1485.4 L833.8,1470.7 L834.8,1471.8 L835.9,1467.8 L836.9,1474.0 L837.9,1471.5 L838.9,1476.0 L840.0,1472.0 L841.0,1473.6 L842.0,1459.6 L843.0,1478.0 L844.1,1475.1 L845.1,1477.3 L846.1,1470.7 L847.1,1473.9 L848.2,1472.2 L849.2,1471.9 L850.2,1474.2 L851.2,1483.2 L852.3,1471.0 L853.3,1478.3 L854.3,1475.9 L855.3,1473.7 L856.4,1478.4 L857.4,1486.2 L858.4,1462.4 L859.4,1472.9 L860.5,1468.7 L861.5,1472.5 L862.5,1486.3 L863.5,1472.1 L864.6,1478.7 L865.6,1459.1 L866.6,1473.4 L867.6,1458.9 L868.7,1484.1 L869.7,1464.7 L870.7,1478.0 L871.7,1466.6 L872.8,1474.1 L873.8,1477.1 L874.8,1476.5 L875.8,1475.0 L876.9,1477.3 L877.9,1480.0 L878.9,1465.6 L879.9,1482.5 L881.0,1473.4 L882.0,1475.7 L883.0,1476.4 L884.0,1482.6 L885.0,1473.6 L886.1,1472.9 L887.1,1483.2 L888.1,1464.8 L889.1,1463.8 L890.2,1486.4 L891.2,1476.1 L892.2,1480.3 L893.2,1474.8 L894.3,1475.9 L895.3,1475.0 L896.3,1481.3 L897.3,1472.4 L898.4,1471.4 L899.4,1470.9 L900.4,1474.6 L901.4,1474.9 L902.5,1483.4 L903.5,1473.2 L904.5,1469.8 L905.5,1473.1 L906.6,1465.7 L907.6,1478.2 L908.6,1466.2 L909.6,1473.8 L910.7,1475.2 L911.7,1486.7 L912.7,1469.2 L913.7,1466.9 L914.8,1490.0 L915.8,1488.8 L916.8,1472.9 L917.8,1474.4" fill="none" stroke="#94c2e6" stroke-opacity="0.35" stroke-width="2.2"/>
<path d="M304.9,1394.0 L304.9,1394.1 L305.0,1396.6 L305.1,1399.0 L305.1,1401.2 L305.2,1403.2 L305.3,1405.1 L305.4,1406.9 L305.5,1408.6 L305.5,1410.1 L305.6,1411.6 L305.7,1413.0 L305.8,1414.3 L305.8,1415.5 L305.9,1416.7 L306.0,1417.8 L306.1,1418.9 L306.1,1419.9 L306.2,1420.9 L306.3,1421.8 L306.4,1422.7 L306.5,1423.5 L306.5,1424.3 L306.6,1425.1 L306.7,1425.8 L306.8,1426.6 L306.8,1427.3 L306.9,1427.9 L307.0,1428.6 L307.1,1429.2 L307.2,1429.8 L307.2,1430.3 L307.3,1430.9 L307.4,1431.4 L307.5,1431.9 L307.5,1432.4 L307.6,1432.9 L307.7,1433.4 L307.8,1433.9 L307.8,1434.3 L307.9,1434.7 L308.0,1435.1 L308.1,1435.5 L308.2,1435.9 L308.2,1436.3 L308.3,1436.7 L308.4,1437.1 L308.5,1437.4 L308.5,1437.8 L308.6,1438.1 L308.7,1438.4 L308.8,1438.7 L308.9,1439.0 L308.9,1439.3 L309.0,1439.6 L309.1,1439.9 L309.2,1440.2 L309.2,1440.5 L309.3,1440.8 L309.4,1441.0 L309.5,1441.3 L309.6,1441.5 L309.6,1441.8 L309.7,1442.0 L309.8,1442.3 L309.9,1442.5 L309.9,1442.7 L310.0,1442.9 L310.1,1443.2 L310.2,1443.4 L310.2,1443.6 L310.3,1443.8 L310.4,1444.0 L310.5,1444.2 L310.6,1444.4 L310.6,1444.6 L310.7,1444.7 L310.8,1444.9 L310.9,1445.1 L310.9,1445.3 L311.0,1445.5 L311.1,1445.6 L311.2,1445.8 L311.3,1446.0 L311.3,1446.1 L311.4,1446.3 L311.5,1446.4 L311.6,1446.6 L311.6,1446.7 L311.7,1446.9 L311.8,1447.0 L311.9,1447.2 L311.9,1447.3 L312.0,1447.5 L312.1,1447.6 L312.2,1447.7 L312.3,1447.9 L312.3,1448.0 L312.4,1448.1 L312.5,1448.3 L312.6,1448.4 L312.6,1448.5 L312.7,1448.6 L312.8,1448.7 L312.9,1448.9 L313.0,1449.0 L313.0,1449.1 L313.1,1449.2 L313.2,1449.3 L313.3,1449.4 L313.3,1449.5 L313.4,1449.6 L313.5,1449.8 L313.6,1449.9 L313.6,1450.0 L313.7,1450.1 L313.8,1450.2 L313.9,1450.3 L314.0,1450.4 L314.0,1450.5 L314.1,1450.6 L314.2,1450.6 L314.3,1450.7 L314.3,1450.8 L314.4,1450.9 L314.5,1451.0 L314.6,1451.1 L314.7,1451.2 L314.7,1451.3 L314.8,1451.4 L314.9,1451.4 L315.0,1451.5 L315.0,1451.6 L315.1,1451.7 L315.2,1451.8 L315.3,1451.9 L315.4,1451.9 L315.4,1452.0 L315.5,1452.1 L315.6,1452.2 L315.7,1452.2 L315.7,1452.3 L315.8,1452.4 L315.9,1452.5 L316.0,1452.5 L316.0,1452.6 L316.1,1452.7 L316.2,1452.7 L316.3,1452.8 L316.4,1452.9 L316.4,1452.9 L316.5,1453.0 L316.6,1453.1 L317.0,1453.4 L317.4,1453.8 L317.9,1454.1 L318.3,1454.4 L318.7,1454.7 L319.1,1454.9 L319.5,1455.2 L320.0,1455.4 L320.4,1455.7 L320.8,1455.9 L321.2,1456.1 L321.7,1456.3 L322.1,1456.5 L322.5,1456.7 L322.9,1456.9 L323.3,1457.1 L323.8,1457.3 L324.2,1457.4 L324.6,1457.6 L325.0,1457.7 L325.5,1457.9 L325.9,1458.0 L326.3,1458.2 L326.7,1458.3 L327.2,1458.4 L327.6,1458.6 L328.0,1458.7 L328.4,1458.8 L328.8,1458.9 L329.3,1459.0 L329.7,1459.1 L330.1,1459.2 L330.5,1459.3 L331.0,1459.4 L331.4,1459.5 L331.8,1459.6 L332.2,1459.7 L332.6,1459.8 L333.1,1459.9 L333.5,1460.0 L333.9,1460.1 L334.3,1460.2 L334.8,1460.2 L335.2,1460.3 L335.6,1460.4 L336.0,1460.5 L336.4,1460.5 L336.9,1460.6 L337.3,1460.7 L337.7,1460.7 L338.1,1460.8 L338.6,1460.9 L339.0,1460.9 L339.4,1461.0 L339.8,1461.1 L340.2,1461.1 L340.7,1461.2 L341.1,1461.2 L341.5,1461.3 L341.9,1461.4 L342.4,1461.4 L342.8,1461.5 L343.2,1461.5 L343.6,1461.6 L344.1,1461.6 L344.5,1461.7 L344.9,1461.7 L345.3,1461.8 L345.7,1461.8 L346.2,1461.9 L346.6,1461.9 L347.0,1461.9 L347.4,1462.0 L347.9,1462.0 L348.3,1462.1 L348.7,1462.1 L349.1,1462.2 L349.5,1462.2 L350.0,1462.2 L350.4,1462.3 L350.8,1462.3 L351.2,1462.3 L351.7,1462.4 L352.1,1462.4 L352.5,1462.5 L352.9,1462.5 L353.3,1462.5 L353.8,1462.6 L354.2,1462.6 L354.6,1462.6 L355.0,1462.7 L355.5,1462.7 L355.9,1462.7 L356.3,1462.8 L356.7,1462.8 L357.1,1462.8 L357.6,1462.9 L358.0,1462.9 L358.4,1462.9 L358.8,1462.9 L359.3,1463.0 L359.7,1463.0 L360.1,1463.0 L360.5,1463.1 L361.0,1463.1 L361.4,1463.1 L361.8,1463.1 L362.2,1463.2 L362.6,1463.2 L363.1,1463.2 L363.5,1463.2 L363.9,1463.3 L364.3,1463.3 L364.8,1463.3 L365.2,1463.3 L365.6,1463.4 L366.0,1463.4 L366.4,1463.4 L366.9,1463.4 L367.3,1463.4 L367.7,1463.5 L368.1,1463.5 L368.6,1463.5 L369.0,1463.5 L369.4,1463.6 L369.8,1463.6 L370.2,1463.6 L370.7,1463.6 L371.1,1463.6 L371.5,1463.7 L371.9,1463.7 L372.4,1463.7 L372.8,1463.7 L373.2,1463.7 L373.6,1463.8 L374.0,1463.8 L374.5,1463.8 L374.9,1463.8 L375.3,1463.8 L375.7,1463.8 L376.2,1463.9 L376.6,1463.9 L377.0,1463.9 L377.4,1463.9 L377.9,1463.9 L378.3,1464.0 L378.7,1464.0 L379.1,1464.0 L379.5,1464.0 L380.0,1464.0 L380.4,1464.0 L380.8,1464.1 L381.2,1464.1 L381.7,1464.1 L382.1,1464.1 L382.5,1464.1 L382.9,1464.1 L383.3,1464.1 L383.8,1464.2 L384.2,1464.2 L384.6,1464.2 L385.0,1464.2 L385.5,1464.2 L385.9,1464.2 L386.3,1464.2 L386.7,1464.3 L387.1,1464.3 L387.6,1464.3 L388.0,1464.3 L388.4,1464.3 L388.8,1464.3 L389.3,1464.3 L389.7,1464.4 L390.1,1464.4 L390.5,1464.4 L390.9,1464.4 L391.4,1464.4 L391.8,1464.4 L392.2,1464.4 L392.6,1464.4 L393.1,1464.5 L393.5,1464.5 L393.9,1464.5 L394.3,1464.5 L394.8,1464.5 L395.2,1464.5 L395.6,1464.5 L396.0,1464.5 L396.4,1464.6 L396.9,1464.6 L397.3,1464.6 L397.7,1464.6 L398.1,1464.6 L398.6,1464.6 L399.0,1464.6 L399.4,1464.6 L399.8,1464.6 L400.2,1464.7 L400.7,1464.7 L401.1,1464.7 L401.5,1464.7 L401.9,1464.7 L402.4,1464.7 L402.8,1464.7 L403.2,1464.7 L403.6,1464.7 L404.0,1464.7 L404.5,1464.8 L404.9,1464.8 L405.3,1464.8 L405.7,1464.8 L406.2,1464.8 L406.6,1464.8 L407.0,1464.8 L407.4,1464.8 L407.8,1464.8 L408.3,1464.8 L408.7,1464.9 L409.1,1464.9 L409.5,1464.9 L410.0,1464.9 L410.4,1464.9 L410.8,1464.9 L411.2,1464.9 L411.7,1464.9 L412.1,1464.9 L412.5,1464.9 L412.9,1464.9 L413.3,1465.0 L413.8,1465.0 L414.2,1465.0 L414.6,1465.0 L415.0,1465.0 L415.5,1465.0 L415.9,1465.0 L416.3,1465.0 L416.7,1465.0 L417.1,1465.0 L417.6,1465.0 L418.0,1465.0 L418.4,1465.0 L418.8,1465.1 L419.3,1465.1 L419.7,1465.1 L420.1,1465.1 L420.5,1465.1 L420.9,1465.1 L421.4,1465.1 L421.8,1465.1 L422.2,1465.1 L422.6,1465.1 L423.1,1465.1 L423.5,1465.1 L423.9,1465.1 L424.3,1465.2 L424.7,1465.2 L425.2,1465.2 L425.6,1465.2 L426.0,1465.2" fill="none" stroke="#2a77b8" stroke-width="12" stroke-linejoin="round"/>
<path d="M304.7,1128.0 L304.7,1132.0 L304.8,1143.1 L304.9,1153.3 L305.0,1162.9 L305.0,1171.8 L305.1,1180.1 L305.2,1187.9 L305.3,1195.2 L305.3,1202.1 L305.4,1208.6 L305.5,1214.7 L305.6,1220.5 L305.7,1226.0 L305.7,1231.2 L305.8,1236.2 L305.9,1241.0 L306.0,1245.5 L306.0,1249.8 L306.1,1253.9 L306.2,1257.8 L306.3,1261.6 L306.4,1265.2 L306.4,1268.7 L306.5,1272.1 L306.6,1275.3 L306.7,1278.4 L306.7,1281.3 L306.8,1284.2 L306.9,1287.0 L307.0,1289.7 L307.0,1292.2 L307.1,1294.7 L307.2,1297.2 L307.3,1299.5 L307.4,1301.8 L307.4,1303.9 L307.5,1306.1 L307.6,1308.1 L307.7,1310.1 L307.7,1312.1 L307.8,1314.0 L307.9,1315.8 L308.0,1317.6 L308.1,1319.4 L308.1,1321.0 L308.2,1322.7 L308.3,1324.3 L308.4,1325.9 L308.4,1327.4 L308.5,1328.9 L308.6,1330.3 L308.7,1331.8 L308.8,1333.1 L308.8,1334.5 L308.9,1335.8 L309.0,1337.1 L309.1,1338.4 L309.1,1339.6 L309.2,1340.8 L309.3,1342.0 L309.4,1343.1 L309.4,1344.3 L309.5,1345.4 L309.6,1346.5 L309.7,1347.5 L309.8,1348.6 L309.8,1349.6 L309.9,1350.6 L310.0,1351.6 L310.1,1352.5 L310.1,1353.5 L310.2,1354.4 L310.3,1355.3 L310.4,1356.2 L310.5,1357.1 L310.5,1358.0 L310.6,1358.8 L310.7,1359.6 L310.8,1360.5 L310.8,1361.3 L310.9,1362.1 L311.0,1362.8 L311.1,1363.6 L311.1,1364.3 L311.2,1365.1 L311.3,1365.8 L311.4,1366.5 L311.5,1367.2 L311.5,1367.9 L311.6,1368.6 L311.7,1369.3 L311.8,1369.9 L311.8,1370.6 L311.9,1371.2 L312.0,1371.8 L312.1,1372.5 L312.2,1373.1 L312.2,1373.7 L312.3,1374.3 L312.4,1374.9 L312.5,1375.4 L312.5,1376.0 L312.6,1376.6 L312.7,1377.1 L312.8,1377.7 L312.8,1378.2 L312.9,1378.7 L313.0,1379.3 L313.1,1379.8 L313.2,1380.3 L313.2,1380.8 L313.3,1381.3 L313.4,1381.8 L313.5,1382.3 L313.5,1382.8 L313.6,1383.2 L313.7,1383.7 L313.8,1384.1 L313.9,1384.6 L313.9,1385.1 L314.0,1385.5 L314.1,1385.9 L314.2,1386.4 L314.2,1386.8 L314.3,1387.2 L314.4,1387.6 L314.5,1388.0 L314.5,1388.5 L314.6,1388.9 L314.7,1389.3 L314.8,1389.7 L314.9,1390.0 L314.9,1390.4 L315.0,1390.8 L315.1,1391.2 L315.2,1391.6 L315.2,1391.9 L315.3,1392.3 L315.4,1392.7 L315.5,1393.0 L315.6,1393.4 L315.6,1393.7 L315.7,1394.1 L315.8,1394.4 L315.9,1394.7 L315.9,1395.1 L316.0,1395.4 L316.1,1395.7 L316.2,1396.1 L316.3,1396.4 L316.3,1396.7 L316.4,1397.0 L316.5,1397.3 L316.6,1397.6 L316.6,1397.9 L316.7,1398.2 L316.8,1398.5 L319.1,1406.3 L321.4,1412.4 L323.8,1417.3 L326.1,1421.3 L328.4,1424.6 L330.7,1427.4 L333.0,1429.9 L335.4,1432.0 L337.7,1433.9 L340.0,1435.5 L342.3,1437.0 L344.6,1438.4 L347.0,1439.6 L349.3,1440.7 L351.6,1441.7 L353.9,1442.6 L356.2,1443.4 L358.6,1444.2 L360.9,1444.9 L363.2,1445.6 L365.5,1446.2 L367.8,1446.8 L370.2,1447.4 L372.5,1447.9 L374.8,1448.3 L377.1,1448.8 L379.4,1449.2 L381.8,1449.6 L384.1,1450.0 L386.4,1450.4 L388.7,1450.7 L391.1,1451.1 L393.4,1451.4 L395.7,1451.7 L398.0,1452.0 L400.3,1452.2 L402.7,1452.5 L405.0,1452.7 L407.3,1453.0 L409.6,1453.2 L411.9,1453.4 L414.3,1453.6 L416.6,1453.8 L418.9,1454.0 L421.2,1454.2 L423.5,1454.4 L425.9,1454.6 L428.2,1454.7 L430.5,1454.9 L432.8,1455.1 L435.1,1455.2 L437.5,1455.4 L439.8,1455.5 L442.1,1455.6 L444.4,1455.8 L446.7,1455.9 L449.1,1456.0 L451.4,1456.2 L453.7,1456.3 L456.0,1456.4 L458.4,1456.5 L460.7,1456.6 L463.0,1456.7 L465.3,1456.8 L467.6,1456.9 L470.0,1457.0 L472.3,1457.1 L474.6,1457.2 L476.9,1457.3 L479.2,1457.4 L481.6,1457.5 L483.9,1457.5 L486.2,1457.6 L488.5,1457.7 L490.8,1457.8 L493.2,1457.9 L495.5,1457.9 L497.8,1458.0 L500.1,1458.1 L502.4,1458.2 L504.8,1458.2 L507.1,1458.3 L509.4,1458.3 L511.7,1458.4 L514.0,1458.5 L516.4,1458.5 L518.7,1458.6 L521.0,1458.7 L523.3,1458.7 L525.6,1458.8 L528.0,1458.8 L530.3,1458.9 L532.6,1458.9 L534.9,1459.0 L537.3,1459.0 L539.6,1459.1 L541.9,1459.1 L544.2,1459.2 L546.5,1459.2 L548.9,1459.3 L551.2,1459.3 L553.5,1459.4 L555.8,1459.4 L558.1,1459.5 L560.5,1459.5 L562.8,1459.5 L565.1,1459.6 L567.4,1459.6 L569.7,1459.7 L572.1,1459.7 L574.4,1459.7 L576.7,1459.8 L579.0,1459.8 L581.3,1459.8 L583.7,1459.9 L586.0,1459.9 L588.3,1460.0 L590.6,1460.0 L592.9,1460.0 L595.3,1460.1 L597.6,1460.1 L599.9,1460.1 L602.2,1460.2 L604.6,1460.2 L606.9,1460.2 L609.2,1460.2 L611.5,1460.3 L613.8,1460.3 L616.2,1460.3 L618.5,1460.4 L620.8,1460.4 L623.1,1460.4 L625.4,1460.5 L627.8,1460.5 L630.1,1460.5 L632.4,1460.5 L634.7,1460.6 L637.0,1460.6 L639.4,1460.6 L641.7,1460.6 L644.0,1460.7 L646.3,1460.7 L648.6,1460.7 L651.0,1460.7 L653.3,1460.8 L655.6,1460.8 L657.9,1460.8 L660.2,1460.8 L662.6,1460.8 L664.9,1460.9 L667.2,1460.9 L669.5,1460.9 L671.8,1460.9 L674.2,1461.0 L676.5,1461.0 L678.8,1461.0 L681.1,1461.0 L683.5,1461.0 L685.8,1461.1 L688.1,1461.1 L690.4,1461.1 L692.7,1461.1 L695.1,1461.1 L697.4,1461.2 L699.7,1461.2 L702.0,1461.2 L704.3,1461.2 L706.7,1461.2 L709.0,1461.2 L711.3,1461.3 L713.6,1461.3 L715.9,1461.3 L718.3,1461.3 L720.6,1461.3 L722.9,1461.3 L725.2,1461.4 L727.5,1461.4 L729.9,1461.4 L732.2,1461.4 L734.5,1461.4 L736.8,1461.4 L739.1,1461.5 L741.5,1461.5 L743.8,1461.5 L746.1,1461.5 L748.4,1461.5 L750.8,1461.5 L753.1,1461.5 L755.4,1461.6 L757.7,1461.6 L760.0,1461.6 L762.4,1461.6 L764.7,1461.6 L767.0,1461.6 L769.3,1461.6 L771.6,1461.7 L774.0,1461.7 L776.3,1461.7 L778.6,1461.7 L780.9,1461.7 L783.2,1461.7 L785.6,1461.7 L787.9,1461.8 L790.2,1461.8 L792.5,1461.8 L794.8,1461.8 L797.2,1461.8 L799.5,1461.8 L801.8,1461.8 L804.1,1461.8 L806.4,1461.8 L808.8,1461.9 L811.1,1461.9 L813.4,1461.9 L815.7,1461.9 L818.1,1461.9 L820.4,1461.9 L822.7,1461.9 L825.0,1461.9 L827.3,1462.0 L829.7,1462.0 L832.0,1462.0 L834.3,1462.0 L836.6,1462.0 L838.9,1462.0 L841.3,1462.0 L843.6,1462.0 L845.9,1462.0 L848.2,1462.0 L850.5,1462.1 L852.9,1462.1 L855.2,1462.1 L857.5,1462.1 L859.8,1462.1 L862.1,1462.1 L864.5,1462.1 L866.8,1462.1 L869.1,1462.1 L871.4,1462.1 L873.7,1462.2 L876.1,1462.2 L878.4,1462.2 L880.7,1462.2 L883.0,1462.2 L885.3,1462.2 L887.7,1462.2 L890.0,1462.2 L892.3,1462.2 L894.6,1462.2 L897.0,1462.2 L899.3,1462.2 L901.6,1462.3 L903.9,1462.3 L906.2,1462.3 L908.6,1462.3 L910.9,1462.3 L913.2,1462.3 L915.5,1462.3 L917.8,1462.3" fill="none" stroke="#ec6d42" stroke-width="13" stroke-linejoin="round"/>
<text class="bt" x="269.46" y="106" font-size="80" fill="#000" textLength="686.56" lengthAdjust="spacingAndGlyphs">Speed detection loss</text>
<text class="bt" x="1159.69" y="105.8" font-size="80" fill="#000" textLength="880.98" lengthAdjust="spacingAndGlyphs">Health type detection loss</text>
<text class="bt" x="426.49" y="962.5" font-size="80" fill="#000" textLength="322.51" lengthAdjust="spacingAndGlyphs">Total loss</text>
<text class="bt" transform="translate(73,448.02) rotate(-90)" x="0" y="0" font-size="64" fill="#000" textLength="126.54" lengthAdjust="spacingAndGlyphs">Loss</text>
<text class="bt" transform="translate(1085.5,418.01) rotate(-90)" x="0" y="0" font-size="64" fill="#000" textLength="126.23" lengthAdjust="spacingAndGlyphs">Loss</text>
<text class="bt" transform="translate(73.4,1323.51) rotate(-90)" x="0" y="0" font-size="64" fill="#000" textLength="126.34" lengthAdjust="spacingAndGlyphs">Loss</text>
<text class="bt" x="507.48" y="800.2" font-size="64" fill="#2b2b2b" textLength="203.74" lengthAdjust="spacingAndGlyphs">Epochs</text>
<text class="bt" x="1504.48" y="800.2" font-size="64" fill="#2b2b2b" textLength="203.74" lengthAdjust="spacingAndGlyphs">Epochs</text>
<text class="bt" x="523.29" y="1670" font-size="64" fill="#2b2b2b" textLength="201.51" lengthAdjust="spacingAndGlyphs">Epochs</text>
<text class="bt" x="564.38" y="868.5" font-size="77" fill="#2b2b2b" textLength="96.5" lengthAdjust="spacingAndGlyphs">(a)</text>
<text class="bt" x="1567.32" y="868.8" font-size="77" fill="#2b2b2b" textLength="96.57" lengthAdjust="spacingAndGlyphs">(b)</text>
<text class="bt" x="574.77" y="1749" font-size="77" fill="#2b2b2b" textLength="89.04" lengthAdjust="spacingAndGlyphs">(c)</text>
<rect x="1275.6" y="1011.5" width="688" height="138.5" fill="none" stroke="#cfcfcf" stroke-width="5.5"/>
<line x1="1314" y1="1058.4" x2="1534.5" y2="1058.4" stroke="#ec6d42" stroke-width="13"/>
<line x1="1314" y1="1116.4" x2="1534.5" y2="1116.4" stroke="#1f74b6" stroke-width="13"/>
<text class="bt" x="1555.98" y="1073.7" font-size="58" fill="#2e2e2e" textLength="344.27" lengthAdjust="spacingAndGlyphs">Training data</text>
<text class="bt" x="1559.6" y="1131.3" font-size="58" fill="#2e2e2e" textLength="380.52" lengthAdjust="spacingAndGlyphs">Validation data</text>
</svg>
</body></html>
